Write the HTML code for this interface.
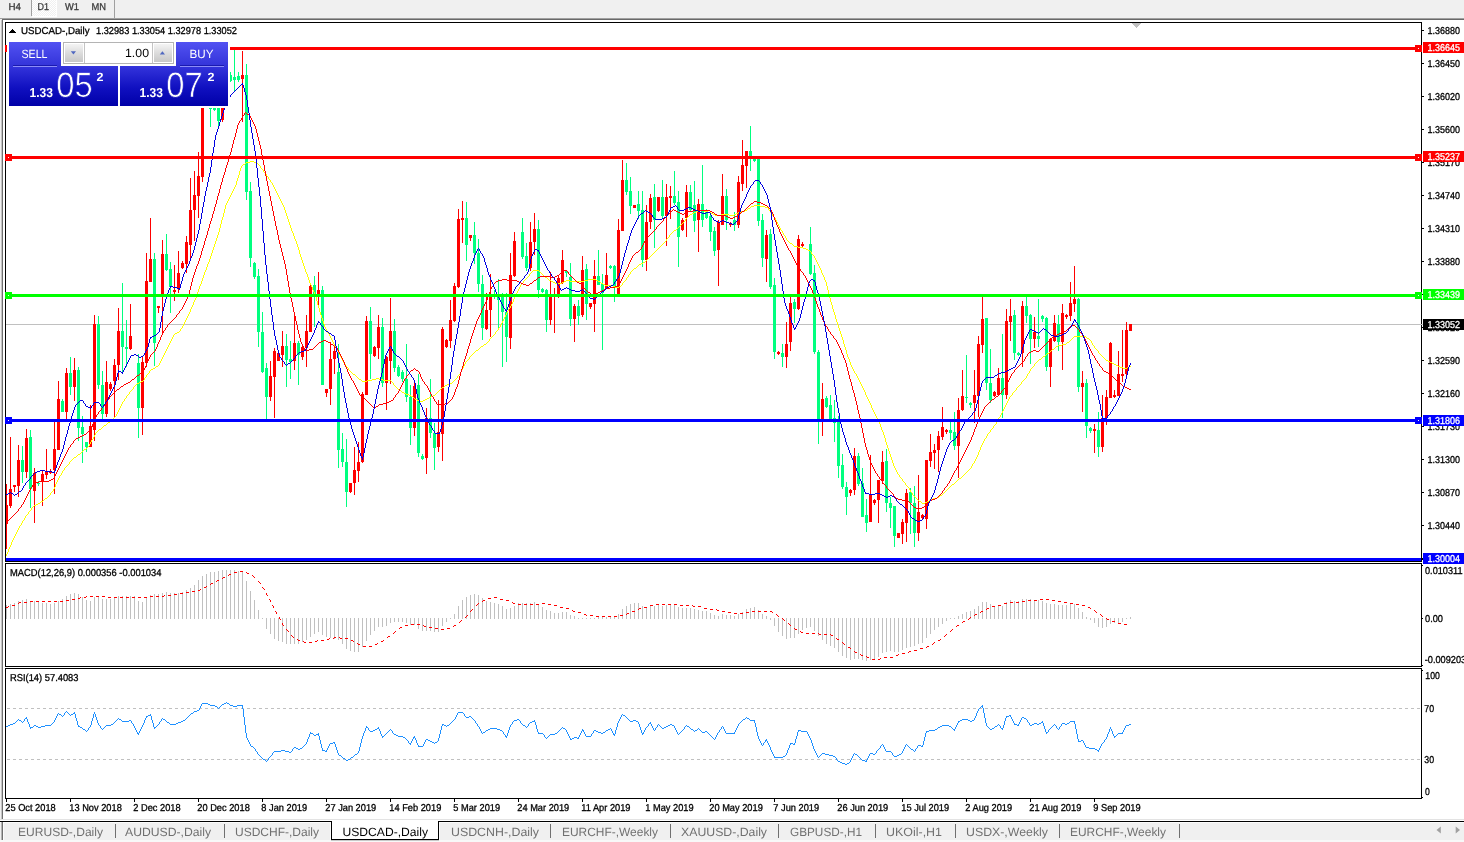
<!DOCTYPE html>
<html><head><meta charset="utf-8"><title>USDCAD-,Daily</title>
<style>
html,body{margin:0;padding:0;background:#fff;width:1464px;height:842px;overflow:hidden;font-family:"Liberation Sans",sans-serif}
svg{display:block}
</style></head><body>
<svg width="1464" height="842" viewBox="0 0 1464 842" shape-rendering="crispEdges" font-family="'Liberation Sans', sans-serif" text-rendering="geometricPrecision"><rect x="0" y="0" width="1464" height="842" fill="#fff"/>
<rect x="0" y="0" width="1464" height="18" fill="#f0f0f0"/>
<defs><pattern id="dz" width="2" height="2" patternUnits="userSpaceOnUse"><rect width="2" height="2" fill="#f0f0f0"/><rect width="1" height="1" fill="#fff"/><rect x="1" y="1" width="1" height="1" fill="#fff"/></pattern></defs>
<rect x="32" y="0" width="25" height="17" fill="#fff"/>
<rect x="32" y="0" width="24" height="16" fill="url(#dz)"/>
<rect x="31" y="0" width="1" height="16" fill="#a0a0a0"/>
<rect x="114" y="0" width="1" height="18" fill="#a0a0a0"/>
<text x="8.5" y="9.8" font-size="10" fill="#3c3c3c" textLength="12.5" lengthAdjust="spacingAndGlyphs" stroke="#3c3c3c" stroke-width="0.3">H4</text>
<text x="37.5" y="9.8" font-size="10" fill="#3c3c3c" textLength="11.5" lengthAdjust="spacingAndGlyphs" stroke="#3c3c3c" stroke-width="0.3">D1</text>
<text x="65" y="9.8" font-size="10" fill="#3c3c3c" textLength="14" lengthAdjust="spacingAndGlyphs" stroke="#3c3c3c" stroke-width="0.3">W1</text>
<text x="91.5" y="9.8" font-size="10" fill="#3c3c3c" textLength="14.5" lengthAdjust="spacingAndGlyphs" stroke="#3c3c3c" stroke-width="0.3">MN</text>
<rect x="0" y="18" width="1464" height="1" fill="#a0a0a0"/>
<rect x="2" y="19" width="1462" height="1" fill="#696969"/>
<rect x="0" y="19" width="2" height="1" fill="#f0f0f0"/>
<rect x="0" y="20" width="2" height="800" fill="#f0f0f0"/>
<rect x="1" y="20" width="1" height="799" fill="#c4c4c4"/>
<rect x="2" y="20" width="1" height="799" fill="#707070"/>
<defs><clipPath id="cm"><rect x="6" y="23" width="1415" height="538"/></clipPath><clipPath id="c2"><rect x="6" y="564" width="1415" height="102"/></clipPath><clipPath id="c3"><rect x="6" y="669" width="1415" height="129"/></clipPath><linearGradient id="gb" x1="0" y1="0" x2="0" y2="1"><stop offset="0" stop-color="#5252f2"/><stop offset="1" stop-color="#3232d8"/></linearGradient><linearGradient id="gp" x1="0" y1="0" x2="0" y2="1"><stop offset="0" stop-color="#3434dc"/><stop offset="0.55" stop-color="#1010c0"/><stop offset="1" stop-color="#0000a8"/></linearGradient><linearGradient id="gg" x1="0" y1="0" x2="0" y2="1"><stop offset="0" stop-color="#f4f4f4"/><stop offset="0.5" stop-color="#dcdcdc"/><stop offset="1" stop-color="#c8c8c8"/></linearGradient><linearGradient id="gs" gradientUnits="userSpaceOnUse" x1="0" y1="66" x2="0" y2="106"><stop offset="0" stop-color="#3434dc"/><stop offset="0.55" stop-color="#1010c0"/><stop offset="1" stop-color="#0000a8"/></linearGradient></defs>
<g clip-path="url(#cm)">
<rect x="6" y="324" width="1416" height="1" fill="#c0c0c0"/>
<rect x="6" y="484" width="1" height="65" fill="#ff0000"/>
<rect x="5" y="505" width="3" height="19" fill="#ff0000"/>
<rect x="10" y="437" width="1" height="71" fill="#ff0000"/>
<rect x="9" y="489" width="3" height="17" fill="#ff0000"/>
<rect x="14" y="485" width="1" height="7" fill="#ff0000"/>
<rect x="13" y="485" width="3" height="2" fill="#ff0000"/>
<rect x="18" y="445" width="1" height="52" fill="#ff0000"/>
<rect x="17" y="460" width="3" height="26" fill="#ff0000"/>
<rect x="22" y="446" width="1" height="37" fill="#00ff7f"/>
<rect x="21" y="460" width="3" height="12" fill="#00ff7f"/>
<rect x="26" y="429" width="1" height="49" fill="#ff0000"/>
<rect x="25" y="438" width="3" height="34" fill="#ff0000"/>
<rect x="30" y="430" width="1" height="78" fill="#00ff7f"/>
<rect x="29" y="437" width="3" height="52" fill="#00ff7f"/>
<rect x="34" y="468" width="1" height="55" fill="#ff0000"/>
<rect x="33" y="473" width="3" height="18" fill="#ff0000"/>
<rect x="38" y="481" width="1" height="5" fill="#00ff7f"/>
<rect x="37" y="483" width="3" height="1" fill="#00ff7f"/>
<rect x="42" y="470" width="1" height="36" fill="#ff0000"/>
<rect x="41" y="474" width="3" height="8" fill="#ff0000"/>
<rect x="46" y="449" width="1" height="30" fill="#ff0000"/>
<rect x="45" y="472" width="3" height="3" fill="#ff0000"/>
<rect x="50" y="469" width="1" height="5" fill="#ff0000"/>
<rect x="49" y="471" width="3" height="2" fill="#ff0000"/>
<rect x="54" y="422" width="1" height="72" fill="#ff0000"/>
<rect x="53" y="449" width="3" height="21" fill="#ff0000"/>
<rect x="58" y="381" width="1" height="69" fill="#ff0000"/>
<rect x="57" y="399" width="3" height="51" fill="#ff0000"/>
<rect x="62" y="399" width="1" height="13" fill="#00ff7f"/>
<rect x="61" y="401" width="3" height="11" fill="#00ff7f"/>
<rect x="66" y="368" width="1" height="51" fill="#ff0000"/>
<rect x="65" y="373" width="3" height="39" fill="#ff0000"/>
<rect x="70" y="357" width="1" height="38" fill="#00ff7f"/>
<rect x="69" y="373" width="3" height="14" fill="#00ff7f"/>
<rect x="74" y="358" width="1" height="43" fill="#ff0000"/>
<rect x="73" y="370" width="3" height="17" fill="#ff0000"/>
<rect x="78" y="367" width="1" height="74" fill="#00ff7f"/>
<rect x="77" y="370" width="3" height="58" fill="#00ff7f"/>
<rect x="82" y="416" width="1" height="47" fill="#00ff7f"/>
<rect x="81" y="427" width="3" height="7" fill="#00ff7f"/>
<rect x="86" y="442" width="1" height="10" fill="#00ff7f"/>
<rect x="85" y="442" width="3" height="5" fill="#00ff7f"/>
<rect x="90" y="405" width="1" height="42" fill="#ff0000"/>
<rect x="89" y="426" width="3" height="21" fill="#ff0000"/>
<rect x="94" y="315" width="1" height="126" fill="#ff0000"/>
<rect x="93" y="324" width="3" height="106" fill="#ff0000"/>
<rect x="98" y="316" width="1" height="73" fill="#00ff7f"/>
<rect x="97" y="324" width="3" height="61" fill="#00ff7f"/>
<rect x="102" y="371" width="1" height="48" fill="#00ff7f"/>
<rect x="101" y="385" width="3" height="29" fill="#00ff7f"/>
<rect x="106" y="361" width="1" height="56" fill="#ff0000"/>
<rect x="105" y="382" width="3" height="32" fill="#ff0000"/>
<rect x="110" y="382" width="1" height="9" fill="#ff0000"/>
<rect x="109" y="384" width="3" height="5" fill="#ff0000"/>
<rect x="114" y="359" width="1" height="59" fill="#ff0000"/>
<rect x="113" y="365" width="3" height="16" fill="#ff0000"/>
<rect x="118" y="308" width="1" height="72" fill="#ff0000"/>
<rect x="117" y="331" width="3" height="34" fill="#ff0000"/>
<rect x="122" y="283" width="1" height="91" fill="#00ff7f"/>
<rect x="121" y="331" width="3" height="16" fill="#00ff7f"/>
<rect x="126" y="320" width="1" height="47" fill="#00ff7f"/>
<rect x="125" y="347" width="3" height="2" fill="#00ff7f"/>
<rect x="130" y="304" width="1" height="46" fill="#ff0000"/>
<rect x="129" y="336" width="3" height="13" fill="#ff0000"/>
<rect x="138" y="354" width="1" height="84" fill="#00ff7f"/>
<rect x="137" y="363" width="3" height="45" fill="#00ff7f"/>
<rect x="142" y="357" width="1" height="78" fill="#ff0000"/>
<rect x="141" y="362" width="3" height="46" fill="#ff0000"/>
<rect x="146" y="253" width="1" height="114" fill="#ff0000"/>
<rect x="145" y="281" width="3" height="82" fill="#ff0000"/>
<rect x="150" y="218" width="1" height="64" fill="#ff0000"/>
<rect x="149" y="259" width="3" height="23" fill="#ff0000"/>
<rect x="154" y="253" width="1" height="113" fill="#00ff7f"/>
<rect x="153" y="259" width="3" height="84" fill="#00ff7f"/>
<rect x="158" y="306" width="1" height="7" fill="#ff0000"/>
<rect x="157" y="306" width="3" height="2" fill="#ff0000"/>
<rect x="162" y="240" width="1" height="94" fill="#ff0000"/>
<rect x="161" y="254" width="3" height="42" fill="#ff0000"/>
<rect x="166" y="234" width="1" height="37" fill="#00ff7f"/>
<rect x="165" y="254" width="3" height="16" fill="#00ff7f"/>
<rect x="170" y="262" width="1" height="51" fill="#00ff7f"/>
<rect x="169" y="269" width="3" height="18" fill="#00ff7f"/>
<rect x="174" y="265" width="1" height="36" fill="#ff0000"/>
<rect x="173" y="290" width="3" height="2" fill="#ff0000"/>
<rect x="178" y="251" width="1" height="42" fill="#ff0000"/>
<rect x="177" y="273" width="3" height="16" fill="#ff0000"/>
<rect x="182" y="261" width="1" height="8" fill="#ff0000"/>
<rect x="181" y="263" width="3" height="5" fill="#ff0000"/>
<rect x="186" y="236" width="1" height="37" fill="#ff0000"/>
<rect x="185" y="242" width="3" height="22" fill="#ff0000"/>
<rect x="190" y="178" width="1" height="82" fill="#ff0000"/>
<rect x="189" y="210" width="3" height="35" fill="#ff0000"/>
<rect x="194" y="171" width="1" height="70" fill="#ff0000"/>
<rect x="193" y="195" width="3" height="15" fill="#ff0000"/>
<rect x="198" y="152" width="1" height="66" fill="#ff0000"/>
<rect x="197" y="176" width="3" height="20" fill="#ff0000"/>
<rect x="202" y="60" width="1" height="122" fill="#ff0000"/>
<rect x="201" y="70" width="3" height="107" fill="#ff0000"/>
<rect x="210" y="60" width="1" height="67" fill="#00ff7f"/>
<rect x="209" y="70" width="3" height="39" fill="#00ff7f"/>
<rect x="214" y="100" width="1" height="11" fill="#00ff7f"/>
<rect x="213" y="104" width="3" height="6" fill="#00ff7f"/>
<rect x="218" y="60" width="1" height="66" fill="#00ff7f"/>
<rect x="217" y="100" width="3" height="21" fill="#00ff7f"/>
<rect x="222" y="60" width="1" height="62" fill="#ff0000"/>
<rect x="221" y="100" width="3" height="20" fill="#ff0000"/>
<rect x="230" y="72" width="1" height="10" fill="#00ff7f"/>
<rect x="229" y="75" width="3" height="6" fill="#00ff7f"/>
<rect x="234" y="50" width="1" height="42" fill="#00ff7f"/>
<rect x="233" y="77" width="3" height="3" fill="#00ff7f"/>
<rect x="238" y="72" width="1" height="10" fill="#00ff7f"/>
<rect x="237" y="76" width="3" height="4" fill="#00ff7f"/>
<rect x="242" y="51" width="1" height="71" fill="#ff0000"/>
<rect x="241" y="75" width="3" height="4" fill="#ff0000"/>
<rect x="246" y="64" width="1" height="136" fill="#00ff7f"/>
<rect x="245" y="75" width="3" height="117" fill="#00ff7f"/>
<rect x="250" y="182" width="1" height="85" fill="#00ff7f"/>
<rect x="249" y="191" width="3" height="67" fill="#00ff7f"/>
<rect x="254" y="262" width="1" height="17" fill="#00ff7f"/>
<rect x="253" y="263" width="3" height="14" fill="#00ff7f"/>
<rect x="258" y="269" width="1" height="78" fill="#00ff7f"/>
<rect x="257" y="276" width="3" height="56" fill="#00ff7f"/>
<rect x="262" y="312" width="1" height="61" fill="#00ff7f"/>
<rect x="261" y="332" width="3" height="40" fill="#00ff7f"/>
<rect x="266" y="363" width="1" height="56" fill="#00ff7f"/>
<rect x="265" y="368" width="3" height="29" fill="#00ff7f"/>
<rect x="270" y="361" width="1" height="40" fill="#ff0000"/>
<rect x="269" y="376" width="3" height="21" fill="#ff0000"/>
<rect x="274" y="348" width="1" height="70" fill="#ff0000"/>
<rect x="273" y="351" width="3" height="26" fill="#ff0000"/>
<rect x="278" y="352" width="1" height="9" fill="#ff0000"/>
<rect x="277" y="353" width="3" height="8" fill="#ff0000"/>
<rect x="282" y="331" width="1" height="36" fill="#ff0000"/>
<rect x="281" y="346" width="3" height="9" fill="#ff0000"/>
<rect x="286" y="334" width="1" height="53" fill="#00ff7f"/>
<rect x="285" y="346" width="3" height="14" fill="#00ff7f"/>
<rect x="290" y="341" width="1" height="38" fill="#00ff7f"/>
<rect x="289" y="359" width="3" height="3" fill="#00ff7f"/>
<rect x="294" y="312" width="1" height="58" fill="#ff0000"/>
<rect x="293" y="343" width="3" height="18" fill="#ff0000"/>
<rect x="298" y="341" width="1" height="44" fill="#00ff7f"/>
<rect x="297" y="343" width="3" height="12" fill="#00ff7f"/>
<rect x="302" y="346" width="1" height="14" fill="#ff0000"/>
<rect x="301" y="347" width="3" height="10" fill="#ff0000"/>
<rect x="306" y="315" width="1" height="52" fill="#ff0000"/>
<rect x="305" y="331" width="3" height="17" fill="#ff0000"/>
<rect x="310" y="285" width="1" height="47" fill="#ff0000"/>
<rect x="309" y="286" width="3" height="46" fill="#ff0000"/>
<rect x="314" y="276" width="1" height="51" fill="#00ff7f"/>
<rect x="313" y="285" width="3" height="10" fill="#00ff7f"/>
<rect x="318" y="272" width="1" height="36" fill="#ff0000"/>
<rect x="317" y="290" width="3" height="7" fill="#ff0000"/>
<rect x="322" y="286" width="1" height="99" fill="#00ff7f"/>
<rect x="321" y="290" width="3" height="95" fill="#00ff7f"/>
<rect x="326" y="389" width="1" height="8" fill="#ff0000"/>
<rect x="325" y="389" width="3" height="4" fill="#ff0000"/>
<rect x="330" y="342" width="1" height="63" fill="#ff0000"/>
<rect x="329" y="359" width="3" height="30" fill="#ff0000"/>
<rect x="334" y="347" width="1" height="27" fill="#ff0000"/>
<rect x="333" y="351" width="3" height="8" fill="#ff0000"/>
<rect x="338" y="344" width="1" height="124" fill="#00ff7f"/>
<rect x="337" y="372" width="3" height="78" fill="#00ff7f"/>
<rect x="342" y="433" width="1" height="34" fill="#00ff7f"/>
<rect x="341" y="449" width="3" height="13" fill="#00ff7f"/>
<rect x="346" y="439" width="1" height="68" fill="#00ff7f"/>
<rect x="345" y="462" width="3" height="30" fill="#00ff7f"/>
<rect x="350" y="483" width="1" height="10" fill="#ff0000"/>
<rect x="349" y="483" width="3" height="9" fill="#ff0000"/>
<rect x="354" y="447" width="1" height="48" fill="#ff0000"/>
<rect x="353" y="470" width="3" height="13" fill="#ff0000"/>
<rect x="358" y="442" width="1" height="40" fill="#ff0000"/>
<rect x="357" y="462" width="3" height="9" fill="#ff0000"/>
<rect x="362" y="392" width="1" height="71" fill="#ff0000"/>
<rect x="361" y="394" width="3" height="68" fill="#ff0000"/>
<rect x="366" y="316" width="1" height="79" fill="#ff0000"/>
<rect x="365" y="321" width="3" height="74" fill="#ff0000"/>
<rect x="370" y="307" width="1" height="72" fill="#00ff7f"/>
<rect x="369" y="321" width="3" height="33" fill="#00ff7f"/>
<rect x="374" y="346" width="1" height="11" fill="#ff0000"/>
<rect x="373" y="347" width="3" height="9" fill="#ff0000"/>
<rect x="378" y="315" width="1" height="44" fill="#ff0000"/>
<rect x="377" y="327" width="3" height="21" fill="#ff0000"/>
<rect x="382" y="318" width="1" height="69" fill="#00ff7f"/>
<rect x="381" y="327" width="3" height="56" fill="#00ff7f"/>
<rect x="386" y="356" width="1" height="54" fill="#ff0000"/>
<rect x="385" y="357" width="3" height="26" fill="#ff0000"/>
<rect x="390" y="298" width="1" height="86" fill="#ff0000"/>
<rect x="389" y="331" width="3" height="30" fill="#ff0000"/>
<rect x="394" y="319" width="1" height="53" fill="#00ff7f"/>
<rect x="393" y="331" width="3" height="37" fill="#00ff7f"/>
<rect x="398" y="365" width="1" height="12" fill="#00ff7f"/>
<rect x="397" y="367" width="3" height="9" fill="#00ff7f"/>
<rect x="402" y="370" width="1" height="12" fill="#00ff7f"/>
<rect x="401" y="372" width="3" height="7" fill="#00ff7f"/>
<rect x="406" y="344" width="1" height="58" fill="#00ff7f"/>
<rect x="405" y="379" width="3" height="18" fill="#00ff7f"/>
<rect x="410" y="385" width="1" height="60" fill="#00ff7f"/>
<rect x="409" y="397" width="3" height="31" fill="#00ff7f"/>
<rect x="414" y="381" width="1" height="55" fill="#ff0000"/>
<rect x="413" y="386" width="3" height="42" fill="#ff0000"/>
<rect x="418" y="374" width="1" height="83" fill="#00ff7f"/>
<rect x="417" y="385" width="3" height="68" fill="#00ff7f"/>
<rect x="422" y="454" width="1" height="6" fill="#00ff7f"/>
<rect x="421" y="456" width="3" height="3" fill="#00ff7f"/>
<rect x="426" y="408" width="1" height="66" fill="#ff0000"/>
<rect x="425" y="418" width="3" height="40" fill="#ff0000"/>
<rect x="430" y="379" width="1" height="59" fill="#00ff7f"/>
<rect x="429" y="418" width="3" height="15" fill="#00ff7f"/>
<rect x="434" y="423" width="1" height="47" fill="#00ff7f"/>
<rect x="433" y="433" width="3" height="15" fill="#00ff7f"/>
<rect x="438" y="400" width="1" height="52" fill="#ff0000"/>
<rect x="437" y="432" width="3" height="15" fill="#ff0000"/>
<rect x="442" y="327" width="1" height="134" fill="#ff0000"/>
<rect x="441" y="329" width="3" height="105" fill="#ff0000"/>
<rect x="446" y="339" width="1" height="9" fill="#ff0000"/>
<rect x="445" y="340" width="3" height="7" fill="#ff0000"/>
<rect x="450" y="300" width="1" height="48" fill="#ff0000"/>
<rect x="449" y="320" width="3" height="21" fill="#ff0000"/>
<rect x="454" y="283" width="1" height="39" fill="#ff0000"/>
<rect x="453" y="286" width="3" height="35" fill="#ff0000"/>
<rect x="458" y="209" width="1" height="79" fill="#ff0000"/>
<rect x="457" y="219" width="3" height="68" fill="#ff0000"/>
<rect x="462" y="201" width="1" height="42" fill="#ff0000"/>
<rect x="461" y="218" width="3" height="2" fill="#ff0000"/>
<rect x="466" y="202" width="1" height="59" fill="#00ff7f"/>
<rect x="465" y="218" width="3" height="27" fill="#00ff7f"/>
<rect x="470" y="235" width="1" height="6" fill="#ff0000"/>
<rect x="469" y="235" width="3" height="3" fill="#ff0000"/>
<rect x="474" y="222" width="1" height="42" fill="#00ff7f"/>
<rect x="473" y="235" width="3" height="18" fill="#00ff7f"/>
<rect x="478" y="239" width="1" height="53" fill="#00ff7f"/>
<rect x="477" y="253" width="3" height="31" fill="#00ff7f"/>
<rect x="482" y="275" width="1" height="65" fill="#00ff7f"/>
<rect x="481" y="284" width="3" height="44" fill="#00ff7f"/>
<rect x="486" y="293" width="1" height="37" fill="#ff0000"/>
<rect x="485" y="310" width="3" height="19" fill="#ff0000"/>
<rect x="490" y="274" width="1" height="63" fill="#ff0000"/>
<rect x="489" y="296" width="3" height="14" fill="#ff0000"/>
<rect x="494" y="290" width="1" height="9" fill="#00ff7f"/>
<rect x="493" y="294" width="3" height="3" fill="#00ff7f"/>
<rect x="498" y="279" width="1" height="49" fill="#00ff7f"/>
<rect x="497" y="297" width="3" height="3" fill="#00ff7f"/>
<rect x="502" y="293" width="1" height="74" fill="#00ff7f"/>
<rect x="501" y="297" width="3" height="15" fill="#00ff7f"/>
<rect x="506" y="293" width="1" height="69" fill="#00ff7f"/>
<rect x="505" y="312" width="3" height="25" fill="#00ff7f"/>
<rect x="510" y="253" width="1" height="96" fill="#ff0000"/>
<rect x="509" y="275" width="3" height="63" fill="#ff0000"/>
<rect x="514" y="232" width="1" height="45" fill="#ff0000"/>
<rect x="513" y="241" width="3" height="35" fill="#ff0000"/>
<rect x="522" y="218" width="1" height="41" fill="#00ff7f"/>
<rect x="521" y="232" width="3" height="25" fill="#00ff7f"/>
<rect x="526" y="243" width="1" height="28" fill="#00ff7f"/>
<rect x="525" y="256" width="3" height="12" fill="#00ff7f"/>
<rect x="530" y="222" width="1" height="49" fill="#ff0000"/>
<rect x="529" y="242" width="3" height="26" fill="#ff0000"/>
<rect x="534" y="213" width="1" height="42" fill="#ff0000"/>
<rect x="533" y="229" width="3" height="13" fill="#ff0000"/>
<rect x="538" y="220" width="1" height="78" fill="#00ff7f"/>
<rect x="537" y="229" width="3" height="61" fill="#00ff7f"/>
<rect x="542" y="288" width="1" height="5" fill="#00ff7f"/>
<rect x="541" y="289" width="3" height="3" fill="#00ff7f"/>
<rect x="546" y="289" width="1" height="43" fill="#00ff7f"/>
<rect x="545" y="290" width="3" height="30" fill="#00ff7f"/>
<rect x="550" y="272" width="1" height="53" fill="#ff0000"/>
<rect x="549" y="296" width="3" height="24" fill="#ff0000"/>
<rect x="554" y="288" width="1" height="45" fill="#ff0000"/>
<rect x="553" y="294" width="3" height="3" fill="#ff0000"/>
<rect x="558" y="275" width="1" height="23" fill="#ff0000"/>
<rect x="557" y="278" width="3" height="17" fill="#ff0000"/>
<rect x="562" y="250" width="1" height="34" fill="#ff0000"/>
<rect x="561" y="260" width="3" height="23" fill="#ff0000"/>
<rect x="566" y="270" width="1" height="7" fill="#00ff7f"/>
<rect x="565" y="271" width="3" height="2" fill="#00ff7f"/>
<rect x="570" y="263" width="1" height="63" fill="#00ff7f"/>
<rect x="569" y="277" width="3" height="42" fill="#00ff7f"/>
<rect x="574" y="304" width="1" height="38" fill="#ff0000"/>
<rect x="573" y="306" width="3" height="13" fill="#ff0000"/>
<rect x="578" y="300" width="1" height="25" fill="#00ff7f"/>
<rect x="577" y="306" width="3" height="10" fill="#00ff7f"/>
<rect x="582" y="256" width="1" height="61" fill="#ff0000"/>
<rect x="581" y="270" width="3" height="45" fill="#ff0000"/>
<rect x="586" y="264" width="1" height="56" fill="#00ff7f"/>
<rect x="585" y="269" width="3" height="35" fill="#00ff7f"/>
<rect x="590" y="303" width="1" height="6" fill="#ff0000"/>
<rect x="589" y="303" width="3" height="4" fill="#ff0000"/>
<rect x="594" y="260" width="1" height="72" fill="#ff0000"/>
<rect x="593" y="276" width="3" height="28" fill="#ff0000"/>
<rect x="598" y="250" width="1" height="35" fill="#00ff7f"/>
<rect x="597" y="276" width="3" height="9" fill="#00ff7f"/>
<rect x="602" y="274" width="1" height="76" fill="#00ff7f"/>
<rect x="601" y="284" width="3" height="9" fill="#00ff7f"/>
<rect x="606" y="253" width="1" height="36" fill="#ff0000"/>
<rect x="605" y="275" width="3" height="14" fill="#ff0000"/>
<rect x="610" y="265" width="1" height="4" fill="#00ff7f"/>
<rect x="609" y="266" width="3" height="2" fill="#00ff7f"/>
<rect x="614" y="265" width="1" height="37" fill="#00ff7f"/>
<rect x="613" y="266" width="3" height="21" fill="#00ff7f"/>
<rect x="618" y="219" width="1" height="76" fill="#ff0000"/>
<rect x="617" y="230" width="3" height="65" fill="#ff0000"/>
<rect x="622" y="160" width="1" height="71" fill="#ff0000"/>
<rect x="621" y="180" width="3" height="51" fill="#ff0000"/>
<rect x="626" y="163" width="1" height="32" fill="#00ff7f"/>
<rect x="625" y="180" width="3" height="12" fill="#00ff7f"/>
<rect x="630" y="177" width="1" height="37" fill="#00ff7f"/>
<rect x="629" y="191" width="3" height="15" fill="#00ff7f"/>
<rect x="634" y="205" width="1" height="3" fill="#ff0000"/>
<rect x="633" y="205" width="3" height="3" fill="#ff0000"/>
<rect x="638" y="191" width="1" height="28" fill="#00ff7f"/>
<rect x="637" y="204" width="3" height="7" fill="#00ff7f"/>
<rect x="642" y="191" width="1" height="76" fill="#00ff7f"/>
<rect x="641" y="210" width="3" height="50" fill="#00ff7f"/>
<rect x="646" y="205" width="1" height="66" fill="#ff0000"/>
<rect x="645" y="222" width="3" height="38" fill="#ff0000"/>
<rect x="650" y="194" width="1" height="35" fill="#ff0000"/>
<rect x="649" y="198" width="3" height="24" fill="#ff0000"/>
<rect x="654" y="184" width="1" height="64" fill="#00ff7f"/>
<rect x="653" y="197" width="3" height="23" fill="#00ff7f"/>
<rect x="658" y="197" width="1" height="15" fill="#ff0000"/>
<rect x="657" y="197" width="3" height="14" fill="#ff0000"/>
<rect x="662" y="180" width="1" height="39" fill="#00ff7f"/>
<rect x="661" y="197" width="3" height="19" fill="#00ff7f"/>
<rect x="666" y="184" width="1" height="62" fill="#ff0000"/>
<rect x="665" y="197" width="3" height="19" fill="#ff0000"/>
<rect x="670" y="186" width="1" height="33" fill="#ff0000"/>
<rect x="669" y="196" width="3" height="2" fill="#ff0000"/>
<rect x="674" y="171" width="1" height="34" fill="#00ff7f"/>
<rect x="673" y="196" width="3" height="7" fill="#00ff7f"/>
<rect x="678" y="191" width="1" height="76" fill="#00ff7f"/>
<rect x="677" y="202" width="3" height="35" fill="#00ff7f"/>
<rect x="682" y="218" width="1" height="13" fill="#ff0000"/>
<rect x="681" y="220" width="3" height="10" fill="#ff0000"/>
<rect x="686" y="185" width="1" height="52" fill="#ff0000"/>
<rect x="685" y="192" width="3" height="26" fill="#ff0000"/>
<rect x="690" y="185" width="1" height="27" fill="#00ff7f"/>
<rect x="689" y="192" width="3" height="18" fill="#00ff7f"/>
<rect x="694" y="181" width="1" height="51" fill="#00ff7f"/>
<rect x="693" y="205" width="3" height="16" fill="#00ff7f"/>
<rect x="698" y="199" width="1" height="53" fill="#ff0000"/>
<rect x="697" y="204" width="3" height="16" fill="#ff0000"/>
<rect x="702" y="165" width="1" height="62" fill="#00ff7f"/>
<rect x="701" y="204" width="3" height="16" fill="#00ff7f"/>
<rect x="706" y="209" width="1" height="10" fill="#00ff7f"/>
<rect x="705" y="211" width="3" height="7" fill="#00ff7f"/>
<rect x="710" y="215" width="1" height="26" fill="#00ff7f"/>
<rect x="709" y="216" width="3" height="16" fill="#00ff7f"/>
<rect x="714" y="227" width="1" height="29" fill="#00ff7f"/>
<rect x="713" y="231" width="3" height="20" fill="#00ff7f"/>
<rect x="718" y="220" width="1" height="66" fill="#ff0000"/>
<rect x="717" y="222" width="3" height="28" fill="#ff0000"/>
<rect x="722" y="174" width="1" height="51" fill="#ff0000"/>
<rect x="721" y="196" width="3" height="29" fill="#ff0000"/>
<rect x="726" y="189" width="1" height="41" fill="#00ff7f"/>
<rect x="725" y="196" width="3" height="24" fill="#00ff7f"/>
<rect x="730" y="222" width="1" height="5" fill="#ff0000"/>
<rect x="729" y="223" width="3" height="2" fill="#ff0000"/>
<rect x="734" y="212" width="1" height="19" fill="#00ff7f"/>
<rect x="733" y="220" width="3" height="5" fill="#00ff7f"/>
<rect x="738" y="176" width="1" height="52" fill="#ff0000"/>
<rect x="737" y="182" width="3" height="43" fill="#ff0000"/>
<rect x="742" y="140" width="1" height="51" fill="#ff0000"/>
<rect x="741" y="165" width="3" height="19" fill="#ff0000"/>
<rect x="746" y="151" width="1" height="37" fill="#ff0000"/>
<rect x="745" y="151" width="3" height="15" fill="#ff0000"/>
<rect x="750" y="126" width="1" height="45" fill="#00ff7f"/>
<rect x="749" y="151" width="3" height="5" fill="#00ff7f"/>
<rect x="754" y="157" width="1" height="5" fill="#00ff7f"/>
<rect x="753" y="158" width="3" height="3" fill="#00ff7f"/>
<rect x="758" y="159" width="1" height="67" fill="#00ff7f"/>
<rect x="757" y="159" width="3" height="62" fill="#00ff7f"/>
<rect x="762" y="214" width="1" height="53" fill="#00ff7f"/>
<rect x="761" y="220" width="3" height="38" fill="#00ff7f"/>
<rect x="766" y="230" width="1" height="52" fill="#ff0000"/>
<rect x="765" y="235" width="3" height="24" fill="#ff0000"/>
<rect x="770" y="229" width="1" height="60" fill="#00ff7f"/>
<rect x="769" y="234" width="3" height="53" fill="#00ff7f"/>
<rect x="774" y="278" width="1" height="81" fill="#00ff7f"/>
<rect x="773" y="285" width="3" height="67" fill="#00ff7f"/>
<rect x="778" y="351" width="1" height="4" fill="#ff0000"/>
<rect x="777" y="352" width="3" height="2" fill="#ff0000"/>
<rect x="782" y="344" width="1" height="23" fill="#00ff7f"/>
<rect x="781" y="353" width="3" height="4" fill="#00ff7f"/>
<rect x="786" y="322" width="1" height="46" fill="#ff0000"/>
<rect x="785" y="344" width="3" height="13" fill="#ff0000"/>
<rect x="790" y="297" width="1" height="54" fill="#ff0000"/>
<rect x="789" y="303" width="3" height="39" fill="#ff0000"/>
<rect x="794" y="299" width="1" height="24" fill="#00ff7f"/>
<rect x="793" y="302" width="3" height="7" fill="#00ff7f"/>
<rect x="798" y="235" width="1" height="75" fill="#ff0000"/>
<rect x="797" y="239" width="3" height="70" fill="#ff0000"/>
<rect x="802" y="242" width="1" height="6" fill="#ff0000"/>
<rect x="801" y="244" width="3" height="2" fill="#ff0000"/>
<rect x="810" y="227" width="1" height="48" fill="#00ff7f"/>
<rect x="809" y="244" width="3" height="30" fill="#00ff7f"/>
<rect x="814" y="265" width="1" height="89" fill="#00ff7f"/>
<rect x="813" y="273" width="3" height="79" fill="#00ff7f"/>
<rect x="818" y="350" width="1" height="94" fill="#00ff7f"/>
<rect x="817" y="352" width="3" height="68" fill="#00ff7f"/>
<rect x="822" y="383" width="1" height="53" fill="#ff0000"/>
<rect x="821" y="399" width="3" height="20" fill="#ff0000"/>
<rect x="826" y="396" width="1" height="12" fill="#00ff7f"/>
<rect x="825" y="398" width="3" height="9" fill="#00ff7f"/>
<rect x="830" y="395" width="1" height="25" fill="#00ff7f"/>
<rect x="829" y="405" width="3" height="14" fill="#00ff7f"/>
<rect x="834" y="400" width="1" height="42" fill="#00ff7f"/>
<rect x="833" y="418" width="3" height="5" fill="#00ff7f"/>
<rect x="838" y="416" width="1" height="62" fill="#00ff7f"/>
<rect x="837" y="422" width="3" height="44" fill="#00ff7f"/>
<rect x="842" y="454" width="1" height="35" fill="#00ff7f"/>
<rect x="841" y="465" width="3" height="22" fill="#00ff7f"/>
<rect x="846" y="482" width="1" height="33" fill="#00ff7f"/>
<rect x="845" y="487" width="3" height="10" fill="#00ff7f"/>
<rect x="850" y="489" width="1" height="7" fill="#ff0000"/>
<rect x="849" y="490" width="3" height="3" fill="#ff0000"/>
<rect x="854" y="448" width="1" height="47" fill="#ff0000"/>
<rect x="853" y="456" width="3" height="34" fill="#ff0000"/>
<rect x="858" y="453" width="1" height="33" fill="#00ff7f"/>
<rect x="857" y="456" width="3" height="28" fill="#00ff7f"/>
<rect x="862" y="468" width="1" height="49" fill="#00ff7f"/>
<rect x="861" y="483" width="3" height="34" fill="#00ff7f"/>
<rect x="866" y="499" width="1" height="33" fill="#00ff7f"/>
<rect x="865" y="515" width="3" height="8" fill="#00ff7f"/>
<rect x="870" y="455" width="1" height="67" fill="#ff0000"/>
<rect x="869" y="494" width="3" height="28" fill="#ff0000"/>
<rect x="874" y="499" width="1" height="6" fill="#ff0000"/>
<rect x="873" y="500" width="3" height="3" fill="#ff0000"/>
<rect x="878" y="480" width="1" height="43" fill="#ff0000"/>
<rect x="877" y="480" width="3" height="20" fill="#ff0000"/>
<rect x="882" y="451" width="1" height="33" fill="#ff0000"/>
<rect x="881" y="462" width="3" height="19" fill="#ff0000"/>
<rect x="886" y="449" width="1" height="63" fill="#00ff7f"/>
<rect x="885" y="461" width="3" height="42" fill="#00ff7f"/>
<rect x="890" y="497" width="1" height="31" fill="#00ff7f"/>
<rect x="889" y="503" width="3" height="5" fill="#00ff7f"/>
<rect x="894" y="506" width="1" height="41" fill="#00ff7f"/>
<rect x="893" y="506" width="3" height="30" fill="#00ff7f"/>
<rect x="898" y="533" width="1" height="5" fill="#ff0000"/>
<rect x="897" y="533" width="3" height="5" fill="#ff0000"/>
<rect x="902" y="519" width="1" height="25" fill="#ff0000"/>
<rect x="901" y="522" width="3" height="12" fill="#ff0000"/>
<rect x="906" y="489" width="1" height="53" fill="#ff0000"/>
<rect x="905" y="493" width="3" height="30" fill="#ff0000"/>
<rect x="910" y="488" width="1" height="46" fill="#00ff7f"/>
<rect x="909" y="492" width="3" height="11" fill="#00ff7f"/>
<rect x="914" y="486" width="1" height="61" fill="#00ff7f"/>
<rect x="913" y="503" width="3" height="30" fill="#00ff7f"/>
<rect x="918" y="475" width="1" height="66" fill="#ff0000"/>
<rect x="917" y="512" width="3" height="21" fill="#ff0000"/>
<rect x="922" y="514" width="1" height="5" fill="#ff0000"/>
<rect x="921" y="515" width="3" height="3" fill="#ff0000"/>
<rect x="926" y="460" width="1" height="69" fill="#ff0000"/>
<rect x="925" y="460" width="3" height="59" fill="#ff0000"/>
<rect x="930" y="434" width="1" height="33" fill="#ff0000"/>
<rect x="929" y="452" width="3" height="9" fill="#ff0000"/>
<rect x="934" y="444" width="1" height="25" fill="#ff0000"/>
<rect x="933" y="450" width="3" height="3" fill="#ff0000"/>
<rect x="938" y="431" width="1" height="41" fill="#ff0000"/>
<rect x="937" y="436" width="3" height="14" fill="#ff0000"/>
<rect x="942" y="407" width="1" height="33" fill="#ff0000"/>
<rect x="941" y="427" width="3" height="10" fill="#ff0000"/>
<rect x="946" y="429" width="1" height="5" fill="#ff0000"/>
<rect x="945" y="430" width="3" height="2" fill="#ff0000"/>
<rect x="950" y="422" width="1" height="18" fill="#00ff7f"/>
<rect x="949" y="430" width="3" height="3" fill="#00ff7f"/>
<rect x="954" y="412" width="1" height="38" fill="#00ff7f"/>
<rect x="953" y="432" width="3" height="14" fill="#00ff7f"/>
<rect x="958" y="398" width="1" height="80" fill="#ff0000"/>
<rect x="957" y="410" width="3" height="36" fill="#ff0000"/>
<rect x="962" y="370" width="1" height="41" fill="#ff0000"/>
<rect x="961" y="396" width="3" height="14" fill="#ff0000"/>
<rect x="966" y="355" width="1" height="48" fill="#00ff7f"/>
<rect x="965" y="397" width="3" height="1" fill="#00ff7f"/>
<rect x="970" y="402" width="1" height="6" fill="#00ff7f"/>
<rect x="969" y="403" width="3" height="2" fill="#00ff7f"/>
<rect x="974" y="370" width="1" height="53" fill="#ff0000"/>
<rect x="973" y="395" width="3" height="8" fill="#ff0000"/>
<rect x="978" y="336" width="1" height="81" fill="#ff0000"/>
<rect x="977" y="344" width="3" height="52" fill="#ff0000"/>
<rect x="982" y="297" width="1" height="56" fill="#ff0000"/>
<rect x="981" y="319" width="3" height="26" fill="#ff0000"/>
<rect x="986" y="318" width="1" height="72" fill="#00ff7f"/>
<rect x="985" y="318" width="3" height="65" fill="#00ff7f"/>
<rect x="990" y="349" width="1" height="54" fill="#00ff7f"/>
<rect x="989" y="383" width="3" height="17" fill="#00ff7f"/>
<rect x="994" y="391" width="1" height="6" fill="#ff0000"/>
<rect x="993" y="392" width="3" height="4" fill="#ff0000"/>
<rect x="998" y="368" width="1" height="28" fill="#ff0000"/>
<rect x="997" y="378" width="3" height="17" fill="#ff0000"/>
<rect x="1002" y="334" width="1" height="84" fill="#00ff7f"/>
<rect x="1001" y="378" width="3" height="17" fill="#00ff7f"/>
<rect x="1006" y="309" width="1" height="90" fill="#ff0000"/>
<rect x="1005" y="321" width="3" height="74" fill="#ff0000"/>
<rect x="1010" y="299" width="1" height="42" fill="#ff0000"/>
<rect x="1009" y="316" width="3" height="6" fill="#ff0000"/>
<rect x="1014" y="310" width="1" height="50" fill="#00ff7f"/>
<rect x="1013" y="315" width="3" height="38" fill="#00ff7f"/>
<rect x="1018" y="352" width="1" height="4" fill="#00ff7f"/>
<rect x="1017" y="353" width="3" height="2" fill="#00ff7f"/>
<rect x="1022" y="301" width="1" height="66" fill="#ff0000"/>
<rect x="1021" y="306" width="3" height="47" fill="#ff0000"/>
<rect x="1026" y="297" width="1" height="26" fill="#00ff7f"/>
<rect x="1025" y="306" width="3" height="10" fill="#00ff7f"/>
<rect x="1030" y="314" width="1" height="50" fill="#00ff7f"/>
<rect x="1029" y="315" width="3" height="24" fill="#00ff7f"/>
<rect x="1034" y="317" width="1" height="31" fill="#ff0000"/>
<rect x="1033" y="332" width="3" height="7" fill="#ff0000"/>
<rect x="1038" y="299" width="1" height="48" fill="#00ff7f"/>
<rect x="1037" y="336" width="3" height="3" fill="#00ff7f"/>
<rect x="1042" y="315" width="1" height="7" fill="#00ff7f"/>
<rect x="1041" y="316" width="3" height="3" fill="#00ff7f"/>
<rect x="1046" y="317" width="1" height="54" fill="#00ff7f"/>
<rect x="1045" y="318" width="3" height="49" fill="#00ff7f"/>
<rect x="1050" y="338" width="1" height="49" fill="#ff0000"/>
<rect x="1049" y="339" width="3" height="28" fill="#ff0000"/>
<rect x="1054" y="315" width="1" height="27" fill="#ff0000"/>
<rect x="1053" y="323" width="3" height="18" fill="#ff0000"/>
<rect x="1058" y="315" width="1" height="36" fill="#00ff7f"/>
<rect x="1057" y="324" width="3" height="18" fill="#00ff7f"/>
<rect x="1062" y="304" width="1" height="66" fill="#ff0000"/>
<rect x="1061" y="313" width="3" height="29" fill="#ff0000"/>
<rect x="1066" y="314" width="1" height="5" fill="#ff0000"/>
<rect x="1065" y="315" width="3" height="2" fill="#ff0000"/>
<rect x="1070" y="282" width="1" height="39" fill="#ff0000"/>
<rect x="1069" y="303" width="3" height="13" fill="#ff0000"/>
<rect x="1074" y="266" width="1" height="46" fill="#ff0000"/>
<rect x="1073" y="299" width="3" height="5" fill="#ff0000"/>
<rect x="1078" y="298" width="1" height="94" fill="#00ff7f"/>
<rect x="1077" y="299" width="3" height="88" fill="#00ff7f"/>
<rect x="1082" y="371" width="1" height="41" fill="#ff0000"/>
<rect x="1081" y="383" width="3" height="4" fill="#ff0000"/>
<rect x="1086" y="379" width="1" height="59" fill="#00ff7f"/>
<rect x="1085" y="383" width="3" height="43" fill="#00ff7f"/>
<rect x="1090" y="427" width="1" height="6" fill="#00ff7f"/>
<rect x="1089" y="428" width="3" height="3" fill="#00ff7f"/>
<rect x="1094" y="424" width="1" height="29" fill="#ff0000"/>
<rect x="1093" y="429" width="3" height="2" fill="#ff0000"/>
<rect x="1098" y="412" width="1" height="45" fill="#00ff7f"/>
<rect x="1097" y="430" width="3" height="17" fill="#00ff7f"/>
<rect x="1102" y="395" width="1" height="57" fill="#ff0000"/>
<rect x="1101" y="418" width="3" height="29" fill="#ff0000"/>
<rect x="1106" y="390" width="1" height="35" fill="#ff0000"/>
<rect x="1105" y="397" width="3" height="21" fill="#ff0000"/>
<rect x="1110" y="342" width="1" height="56" fill="#ff0000"/>
<rect x="1109" y="343" width="3" height="55" fill="#ff0000"/>
<rect x="1114" y="390" width="1" height="8" fill="#ff0000"/>
<rect x="1113" y="395" width="3" height="2" fill="#ff0000"/>
<rect x="1118" y="351" width="1" height="45" fill="#ff0000"/>
<rect x="1117" y="374" width="3" height="22" fill="#ff0000"/>
<rect x="1122" y="330" width="1" height="52" fill="#ff0000"/>
<rect x="1121" y="374" width="3" height="2" fill="#ff0000"/>
<rect x="1126" y="322" width="1" height="53" fill="#ff0000"/>
<rect x="1125" y="330" width="3" height="44" fill="#ff0000"/>
<rect x="1130" y="324" width="1" height="7" fill="#ff0000"/>
<rect x="1129" y="324" width="3" height="7" fill="#ff0000"/>
<path d="M6.5,554v2M7.5,552v2M8.5,549v3M9.5,547v2M10.5,545v2M11.5,542v3M12.5,540v2M13.5,538v2M14.5,536v2M15.5,534v2M16.5,532v2M17.5,530v2M18.5,528v2M19.5,526v2M20.5,525v1M21.5,523v2M22.5,521v2M23.5,520v1M24.5,518v2M25.5,516v2M26.5,515v1M27.5,514v1M28.5,512v2M29.5,511v1M30.5,510v1M31.5,508v2M32.5,507v1M33.5,506v1M34,505.5h2M36,504.5h2M38,503.5h2M40.5,502v1M41,501.5h2M43.5,500v1M44.5,499v1M45,498.5h2M47.5,497v1M48.5,496v1M49.5,495v1M50.5,493v2M51.5,492v1M52.5,491v1M53.5,489v2M54.5,487v2M55.5,484v3M56.5,482v2M57.5,480v2M58.5,478v2M59.5,476v2M60.5,475v1M61.5,473v2M62.5,471v2M63.5,470v1M64.5,468v2M65.5,467v1M66.5,466v1M67.5,465v1M68.5,464v1M69.5,462v2M70.5,461v1M71.5,460v1M72.5,459v1M73.5,458v1M74,457.5h2M76.5,456v1M77.5,455v1M78,454.5h2M80.5,453v1M81.5,452v1M82.5,451v1M83.5,450v1M84,449.5h2M86.5,448v1M87.5,447v1M88.5,446v1M89.5,444v2M90.5,442v2M91.5,440v2M92.5,439v1M93.5,437v2M94.5,435v2M95.5,433v2M96.5,432v1M97.5,431v1M98.5,430v1M99,429.5h2M101.5,428v1M102.5,427v1M103.5,426v1M104,425.5h2M106.5,424v1M107.5,423v1M108,422.5h2M110.5,421v1M111.5,420v1M112.5,419v1M113.5,418v1M114.5,417v1M115.5,416v1M116.5,414v2M117.5,412v2M118.5,410v2M119.5,408v2M120.5,406v2M121.5,404v2M122.5,402v2M123.5,401v1M124.5,399v2M125.5,398v1M126.5,396v2M127.5,395v1M128.5,394v1M129.5,392v2M130.5,391v1M131.5,390v1M132.5,389v1M133.5,387v2M134.5,386v1M135.5,385v1M136.5,384v1M137,383.5h2M139,382.5h2M141,381.5h2M143.5,380v1M144.5,378v2M145.5,377v1M146.5,375v2M147.5,374v1M148.5,373v1M149.5,371v2M150.5,370v1M151,369.5h2M153,368.5h2M155.5,367v1M156,366.5h2M158.5,365v1M159.5,363v2M160.5,361v2M161.5,359v2M162.5,357v2M163.5,355v2M164.5,353v2M165.5,351v2M166.5,349v2M167.5,347v2M168.5,345v2M169.5,343v2M170.5,341v2M171.5,339v2M172.5,337v2M173.5,335v2M174.5,334v1M175,333.5h2M177,332.5h2M179.5,331v1M180.5,329v2M181.5,328v1M182.5,326v2M183.5,324v2M184.5,322v2M185.5,320v2M186.5,318v2M187.5,316v2M188.5,314v2M189.5,312v2M190.5,309v3M191.5,307v2M192.5,305v2M193.5,302v3M194.5,300v2M195.5,298v2M196.5,295v3M197.5,292v3M198.5,289v3M199.5,286v3M200.5,284v2M201.5,281v3M202.5,278v3M203.5,275v3M204.5,272v3M205.5,270v2M206.5,267v3M207.5,264v3M208.5,262v2M209.5,259v3M210.5,256v3M211.5,253v3M212.5,250v3M213.5,247v3M214.5,244v3M215.5,241v3M216.5,238v3M217.5,235v3M218.5,232v3M219.5,228v4M220.5,224v4M221.5,220v4M222.5,217v3M223.5,213v4M224.5,209v4M225.5,205v4M226.5,203v2M227.5,201v2M228.5,199v2M229.5,197v2M230.5,195v2M231.5,193v2M232.5,191v2M233.5,189v2M234.5,187v2M235.5,185v2M236.5,181v4M237.5,178v3M238.5,175v3M239.5,171v4M240.5,168v3M241.5,166v2M242.5,165v1M243,164.5h2M245.5,163v1M246,162.5h4M250,161.5h4M254,162.5h2M256,163.5h2M258.5,164v1M259.5,165v1M260.5,166v2M261.5,168v1M262.5,169v1M263.5,170v2M264.5,172v1M265.5,173v1M266.5,174v2M267.5,176v1M268.5,177v2M269.5,179v1M270.5,180v2M271.5,182v1M272.5,183v2M273.5,185v2M274.5,187v2M275.5,189v2M276.5,191v2M277.5,193v2M278.5,195v2M279.5,197v2M280.5,199v2M281.5,201v2M282.5,203v2M283.5,205v2M284.5,207v3M285.5,210v3M286.5,213v3M287.5,216v3M288.5,219v3M289.5,222v3M290.5,225v3M291.5,228v3M292.5,231v2M293.5,233v3M294.5,236v3M295.5,239v2M296.5,241v3M297.5,244v3M298.5,247v3M299.5,250v4M300.5,254v3M301.5,257v3M302.5,260v3M303.5,263v3M304.5,266v3M305.5,269v3M306.5,272v2M307.5,274v3M308.5,277v3M309.5,280v3M310.5,283v2M311.5,285v2M312.5,287v3M313.5,290v2M314.5,292v2M315.5,294v3M316.5,297v4M317.5,301v4M318.5,305v3M319.5,308v4M320.5,312v3M321.5,315v3M322.5,318v3M323.5,321v3M324.5,324v3M325.5,327v2M326.5,329v2M327.5,331v2M328.5,333v1M329.5,334v2M330.5,336v2M331.5,338v2M332.5,340v2M333.5,342v2M334.5,344v2M335.5,346v2M336.5,348v2M337.5,350v1M338.5,351v2M339.5,353v2M340.5,355v2M341.5,357v2M342.5,359v2M343.5,361v2M344.5,363v1M345.5,364v2M346.5,366v1M347.5,367v1M348.5,368v2M349.5,370v1M350.5,371v1M351.5,372v1M352.5,373v1M353,374.5h2M355.5,375v1M356.5,376v1M357.5,377v1M358.5,378v1M359,379.5h2M361.5,380v1M362,381.5h5M367,380.5h5M372,379.5h4M376,378.5h3M379,379.5h4M383,380.5h8M391.5,381v1M392.5,382v1M393.5,383v2M394.5,385v1M395.5,386v1M396.5,387v1M397.5,388v1M398,389.5h2M400.5,390v1M401.5,391v1M402,392.5h2M404,393.5h2M406,394.5h3M409,395.5h2M411,396.5h2M413.5,397v1M414.5,398v1M415,399.5h2M417,400.5h3M420,401.5h3M423,400.5h2M425,399.5h2M427,398.5h2M429,397.5h2M431,396.5h2M433,395.5h2M435.5,394v1M436.5,393v1M437.5,392v1M438.5,391v1M439.5,390v1M440.5,389v1M441.5,388v1M442,387.5h2M444.5,386v1M445,385.5h2M447,384.5h3M450,383.5h2M452.5,382v1M453.5,381v1M454.5,380v1M455.5,379v1M456.5,378v1M457.5,376v2M458.5,375v1M459.5,374v1M460.5,372v2M461.5,370v2M462.5,368v2M463.5,366v2M464.5,364v2M465.5,362v2M466.5,361v1M467.5,360v1M468.5,359v1M469.5,357v2M470.5,356v1M471.5,355v1M472.5,354v1M473.5,353v1M474.5,352v1M475.5,351v1M476,350.5h2M478.5,349v1M479.5,348v1M480.5,347v1M481,346.5h2M483.5,345v1M484,344.5h2M486.5,343v1M487.5,342v1M488.5,341v1M489.5,339v2M490.5,338v1M491.5,337v1M492.5,336v1M493.5,335v1M494.5,334v1M495.5,332v2M496.5,331v1M497.5,330v1M498.5,328v2M499.5,327v1M500.5,325v2M501.5,323v2M502.5,321v2M503.5,319v2M504.5,317v2M505.5,315v2M506.5,313v2M507.5,311v2M508.5,309v2M509.5,308v1M510.5,306v2M511.5,304v2M512.5,302v2M513.5,299v3M514.5,297v2M515.5,295v2M516.5,293v2M517.5,291v2M518.5,289v2M519.5,287v2M520.5,285v2M521.5,284v1M522.5,283v1M523.5,281v2M524.5,280v1M525.5,279v1M526.5,278v1M527.5,277v1M528.5,276v1M529.5,274v2M530.5,273v1M531.5,272v1M532.5,271v1M533,270.5h6M539.5,271v1M540.5,272v1M541.5,273v1M542.5,274v1M543.5,275v1M544.5,276v1M545,277.5h2M547.5,278v1M548.5,279v1M549,280.5h2M551,281.5h2M553,282.5h2M555,283.5h7M562,282.5h2M564,281.5h2M566,280.5h4M570,281.5h14M584,280.5h4M588,279.5h8M596,280.5h2M598,281.5h2M600.5,282v1M601,283.5h2M603,284.5h2M605,285.5h8M613,286.5h2M615,287.5h4M619,286.5h2M621.5,285v1M622.5,283v2M623.5,282v1M624.5,281v1M625.5,280v1M626.5,278v2M627.5,277v1M628.5,275v2M629.5,274v1M630.5,272v2M631.5,271v1M632.5,270v1M633.5,269v1M634,268.5h2M636.5,267v1M637.5,266v1M638.5,265v1M639,264.5h2M641,263.5h2M643,262.5h2M645.5,261v1M646.5,260v1M647.5,259v1M648.5,258v1M649.5,257v1M650.5,256v1M651.5,255v1M652.5,254v1M653.5,253v1M654.5,252v1M655.5,251v1M656.5,250v1M657.5,249v1M658.5,248v1M659.5,247v1M660.5,246v1M661.5,245v1M662.5,244v1M663.5,243v1M664.5,242v1M665.5,241v1M666.5,239v2M667.5,238v1M668.5,237v1M669.5,235v2M670.5,234v1M671.5,233v1M672.5,232v1M673.5,231v1M674,230.5h2M676.5,229v1M677.5,228v1M678.5,227v1M679.5,226v1M680.5,225v1M681.5,224v1M682.5,223v1M683.5,222v1M684.5,221v1M685.5,219v2M686.5,218v1M687.5,217v1M688.5,216v1M689.5,215v1M690,214.5h2M692,213.5h2M694,212.5h2M696,211.5h4M700,210.5h4M704,211.5h4M708,212.5h3M711,213.5h2M713,214.5h2M715,215.5h6M721,214.5h8M729,215.5h5M734,214.5h2M736,213.5h2M738,212.5h3M741,211.5h4M745,210.5h2M747.5,209v1M748,208.5h2M750.5,207v1M751,206.5h3M754,205.5h6M760,206.5h5M765,207.5h3M768.5,208v2M769.5,210v1M770.5,211v2M771.5,213v1M772.5,214v2M773.5,216v1M774.5,217v1M775.5,218v2M776.5,220v2M777.5,222v2M778.5,224v2M779.5,226v2M780.5,228v2M781.5,230v1M782.5,231v2M783.5,233v2M784.5,235v1M785.5,236v2M786.5,238v2M787.5,240v1M788.5,241v1M789.5,242v1M790,243.5h2M792.5,244v1M793.5,245v1M794,246.5h4M798,247.5h5M803,248.5h3M806,249.5h2M808,250.5h2M810.5,251v1M811.5,252v2M812.5,254v1M813.5,255v1M814.5,256v2M815.5,258v2M816.5,260v2M817.5,262v2M818.5,264v2M819.5,266v2M820.5,268v2M821.5,270v3M822.5,273v2M823.5,275v2M824.5,277v3M825.5,280v2M826.5,282v4M827.5,286v4M828.5,290v4M829.5,294v4M830.5,298v4M831.5,302v3M832.5,305v4M833.5,309v3M834.5,312v3M835.5,315v4M836.5,319v3M837.5,322v3M838.5,325v3M839.5,328v3M840.5,331v3M841.5,334v3M842.5,337v3M843.5,340v4M844.5,344v3M845.5,347v3M846.5,350v4M847.5,354v3M848.5,357v2M849.5,359v3M850.5,362v3M851.5,365v2M852.5,367v2M853.5,369v2M854.5,371v2M855.5,373v1M856.5,374v2M857.5,376v2M858.5,378v2M859.5,380v2M860.5,382v2M861.5,384v2M862.5,386v2M863.5,388v2M864.5,390v2M865.5,392v3M866.5,395v2M867.5,397v2M868.5,399v2M869.5,401v2M870.5,403v2M871.5,405v3M872.5,408v2M873.5,410v2M874.5,412v2M875.5,414v2M876.5,416v2M877.5,418v2M878.5,420v2M879.5,422v2M880.5,424v3M881.5,427v3M882.5,430v2M883.5,432v3M884.5,435v3M885.5,438v4M886.5,442v3M887.5,445v3M888.5,448v3M889.5,451v3M890.5,454v3M891.5,457v3M892.5,460v3M893.5,463v3M894.5,466v2M895.5,468v2M896.5,470v2M897.5,472v2M898.5,474v1M899.5,475v2M900.5,477v1M901.5,478v1M902.5,479v2M903.5,481v1M904.5,482v1M905.5,483v2M906.5,485v1M907.5,486v1M908.5,487v1M909.5,488v2M910.5,490v2M911.5,492v1M912.5,493v2M913.5,495v1M914.5,496v1M915.5,497v1M916.5,498v1M917.5,499v1M918.5,500v1M919,501.5h2M921.5,502v1M922,503.5h3M925,502.5h2M927,501.5h2M929,500.5h2M931,499.5h2M933,498.5h4M937,497.5h2M939.5,496v1M940,495.5h2M942.5,494v1M943.5,493v1M944.5,492v1M945.5,491v1M946.5,490v1M947.5,489v1M948.5,488v1M949.5,487v1M950.5,486v1M951.5,485v1M952,484.5h2M954.5,483v1M955.5,482v1M956.5,481v1M957.5,480v1M958.5,479v1M959,478.5h2M961.5,477v1M962.5,476v1M963.5,475v1M964.5,474v1M965.5,473v1M966.5,472v1M967.5,471v1M968.5,470v1M969.5,469v1M970.5,468v1M971.5,466v2M972.5,464v2M973.5,463v1M974.5,461v2M975.5,459v2M976.5,457v2M977.5,455v2M978.5,452v3M979.5,450v2M980.5,447v3M981.5,445v2M982.5,443v2M983.5,441v2M984.5,439v2M985.5,438v1M986.5,436v2M987.5,434v2M988.5,433v1M989.5,432v1M990.5,430v2M991.5,429v1M992.5,428v1M993.5,426v2M994.5,425v1M995.5,424v1M996.5,422v2M997.5,420v2M998.5,418v2M999.5,417v1M1000.5,415v2M1001.5,413v2M1002.5,411v2M1003.5,409v2M1004.5,407v2M1005.5,405v2M1006.5,403v2M1007.5,401v2M1008.5,399v2M1009.5,397v2M1010.5,396v1M1011.5,395v1M1012.5,393v2M1013.5,392v1M1014.5,391v1M1015.5,390v1M1016.5,388v2M1017.5,387v1M1018.5,386v1M1019.5,385v1M1020.5,384v1M1021.5,382v2M1022.5,381v1M1023.5,380v1M1024.5,379v1M1025.5,378v1M1026.5,376v2M1027.5,374v2M1028.5,373v1M1029.5,371v2M1030.5,369v2M1031.5,368v1M1032.5,367v1M1033.5,366v1M1034.5,364v2M1035.5,363v1M1036.5,362v1M1037.5,361v1M1038.5,360v1M1039,359.5h2M1041.5,358v1M1042.5,357v1M1043,356.5h2M1045.5,355v1M1046.5,354v1M1047,353.5h2M1049.5,352v1M1050.5,351v1M1051.5,350v1M1052,349.5h2M1054.5,348v1M1055.5,347v1M1056,346.5h2M1058,345.5h4M1062,344.5h4M1066.5,343v1M1067,342.5h2M1069.5,341v1M1070.5,340v1M1071.5,339v1M1072.5,338v1M1073.5,337v1M1074,336.5h12M1086.5,337v1M1087,338.5h2M1089.5,339v1M1090.5,340v1M1091.5,341v2M1092.5,343v2M1093.5,345v1M1094.5,346v2M1095.5,348v1M1096.5,349v1M1097.5,350v1M1098.5,351v2M1099.5,353v1M1100.5,354v1M1101.5,355v1M1102.5,356v1M1103.5,357v1M1104.5,358v1M1105.5,359v1M1106,360.5h2M1108,361.5h2M1110,362.5h2M1112,363.5h2M1114,364.5h2M1116,365.5h2M1118,366.5h2M1120,367.5h3M1123,368.5h4M1127,367.5h2M1129,366.5h2" fill="none" stroke="#ffff00" stroke-width="1"/>
<path d="M6.5,521v1M7,520.5h2M9.5,519v1M10.5,518v1M11.5,517v1M12.5,516v1M13.5,515v1M14.5,514v1M15.5,513v1M16.5,512v1M17.5,511v1M18.5,509v2M19.5,508v1M20.5,507v1M21.5,505v2M22.5,504v1M23.5,502v2M24.5,500v2M25.5,498v2M26.5,496v2M27.5,494v2M28.5,492v2M29.5,490v2M30.5,488v2M31.5,487v1M32.5,485v2M33.5,484v1M34.5,483v1M35,482.5h4M39,481.5h10M49,480.5h2M51,479.5h2M53.5,478v1M54.5,476v2M55.5,474v2M56.5,472v2M57.5,470v2M58.5,468v2M59.5,466v2M60.5,464v2M61.5,462v2M62.5,460v2M63.5,458v2M64.5,456v2M65.5,454v2M66.5,452v2M67.5,450v2M68.5,448v2M69.5,447v1M70.5,445v2M71.5,444v1M72.5,443v1M73.5,441v2M74.5,440v1M75.5,439v1M76,438.5h2M78,437.5h2M80,436.5h2M82,435.5h2M84,434.5h2M86.5,433v1M87.5,432v1M88,431.5h2M90.5,429v2M91.5,427v2M92.5,424v3M93.5,422v2M94.5,419v3M95.5,417v2M96.5,415v2M97.5,414v1M98.5,412v2M99.5,411v1M100.5,410v1M101.5,408v2M102.5,407v1M103.5,406v1M104.5,404v2M105.5,403v1M106.5,401v2M107.5,400v1M108.5,399v1M109.5,397v2M110.5,396v1M111.5,395v1M112.5,394v1M113.5,393v1M114.5,392v1M115.5,391v1M116.5,390v1M117,389.5h2M119.5,388v1M120.5,387v1M121,386.5h2M123.5,385v1M124,384.5h2M126,383.5h2M128,382.5h2M130.5,381v1M131.5,380v1M132,379.5h2M134.5,378v1M135.5,377v1M136.5,376v1M137,375.5h2M139.5,374v1M140.5,373v1M141,372.5h2M143.5,370v2M144.5,368v2M145.5,366v2M146.5,363v3M147.5,361v2M148.5,359v2M149.5,357v2M150.5,355v2M151.5,354v1M152.5,353v1M153.5,352v1M154.5,351v1M155.5,349v2M156.5,347v2M157.5,344v3M158.5,342v2M159.5,340v2M160.5,337v3M161.5,335v2M162.5,333v2M163.5,331v2M164.5,330v1M165.5,328v2M166.5,327v1M167.5,325v2M168.5,324v1M169.5,323v1M170.5,322v1M171.5,321v1M172.5,320v1M173.5,319v1M174.5,318v1M175.5,317v1M176.5,315v2M177.5,314v1M178.5,313v1M179.5,311v2M180.5,310v1M181.5,309v1M182.5,307v2M183.5,305v2M184.5,303v2M185.5,301v2M186.5,299v2M187.5,297v2M188.5,294v3M189.5,290v4M190.5,286v4M191.5,282v4M192.5,278v4M193.5,275v3M194.5,272v3M195.5,269v3M196.5,266v3M197.5,264v2M198.5,261v3M199.5,258v3M200.5,255v3M201.5,251v4M202.5,248v3M203.5,245v3M204.5,241v4M205.5,238v3M206.5,235v3M207.5,231v4M208.5,228v3M209.5,224v4M210.5,221v3M211.5,218v3M212.5,214v4M213.5,211v3M214.5,207v4M215.5,204v3M216.5,200v4M217.5,196v4M218.5,193v3M219.5,189v4M220.5,185v4M221.5,182v3M222.5,178v4M223.5,175v3M224.5,172v3M225.5,168v4M226.5,165v3M227.5,162v3M228.5,158v4M229.5,155v3M230.5,152v3M231.5,148v4M232.5,144v4M233.5,140v4M234.5,137v3M235.5,133v4M236.5,129v4M237.5,125v4M238.5,123v2M239.5,121v2M240.5,120v1M241.5,118v2M242.5,116v2M243.5,115v1M244.5,113v2M245.5,112v1M246.5,113v1M247,114.5h2M249.5,115v1M250.5,116v2M251.5,118v2M252.5,120v2M253.5,122v2M254.5,124v2M255.5,126v3M256.5,129v4M257.5,133v4M258.5,137v4M259.5,141v4M260.5,145v4M261.5,149v6M262.5,155v5M263.5,160v5M264.5,165v6M265.5,171v5M266.5,176v5M267.5,181v5M268.5,186v5M269.5,191v5M270.5,196v5M271.5,201v5M272.5,206v5M273.5,211v5M274.5,216v5M275.5,221v5M276.5,226v4M277.5,230v5M278.5,235v5M279.5,240v4M280.5,244v4M281.5,248v4M282.5,252v4M283.5,256v4M284.5,260v4M285.5,264v5M286.5,269v6M287.5,275v6M288.5,281v6M289.5,287v6M290.5,293v5M291.5,298v4M292.5,302v5M293.5,307v5M294.5,312v4M295.5,316v5M296.5,321v4M297.5,325v5M298.5,330v4M299.5,334v4M300.5,338v4M301.5,342v2M302.5,344v2M303.5,346v2M304.5,348v2M305,350.5h4M309,349.5h4M313.5,348v1M314.5,347v1M315.5,346v1M316.5,345v1M317.5,344v1M318.5,343v1M319,342.5h2M321,341.5h2M323,340.5h3M326,341.5h2M328,342.5h2M330.5,343v1M331,344.5h2M333.5,345v1M334.5,346v1M335,347.5h2M337.5,348v2M338.5,350v2M339.5,352v2M340.5,354v2M341.5,356v2M342.5,358v2M343.5,360v2M344.5,362v3M345.5,365v2M346.5,367v2M347.5,369v3M348.5,372v2M349.5,374v2M350.5,376v2M351.5,378v2M352.5,380v1M353.5,381v2M354.5,383v2M355.5,385v2M356.5,387v2M357.5,389v2M358.5,391v2M359.5,393v2M360.5,395v1M361.5,396v1M362.5,397v1M363,398.5h2M365.5,399v1M366.5,400v1M367.5,401v1M368.5,402v1M369.5,403v1M370.5,404v1M371.5,405v1M372.5,406v1M373.5,407v1M374.5,408v1M375.5,407v1M376,406.5h2M378.5,405v1M379,404.5h4M383,403.5h4M387,402.5h2M389,401.5h2M391,400.5h2M393.5,398v2M394.5,397v1M395.5,395v2M396.5,394v1M397.5,393v1M398.5,391v2M399.5,389v2M400.5,387v2M401.5,385v2M402.5,383v2M403.5,381v2M404.5,379v2M405.5,378v1M406.5,376v2M407.5,375v1M408.5,374v1M409.5,372v2M410.5,371v1M411,370.5h2M413.5,369v1M414.5,368v1M415.5,369v1M416,370.5h2M418.5,371v1M419.5,372v2M420.5,374v3M421.5,377v2M422.5,379v2M423.5,381v1M424.5,382v2M425.5,384v1M426.5,385v1M427.5,386v2M428.5,388v2M429.5,390v2M430.5,392v2M431.5,394v2M432.5,396v1M433.5,397v2M434.5,399v2M435.5,401v1M436.5,402v2M437,404.5h8M445,403.5h3M448.5,402v1M449.5,401v1M450.5,400v1M451.5,399v1M452.5,397v2M453.5,395v2M454.5,392v3M455.5,389v3M456.5,387v2M457.5,384v3M458.5,380v4M459.5,376v4M460.5,372v4M461.5,369v3M462.5,366v3M463.5,362v4M464.5,359v3M465.5,356v3M466.5,353v3M467.5,349v4M468.5,346v3M469.5,343v3M470.5,339v4M471.5,336v3M472.5,333v3M473.5,330v3M474.5,327v3M475.5,324v3M476.5,321v3M477.5,319v2M478.5,317v2M479.5,315v2M480.5,313v2M481.5,310v3M482.5,308v2M483.5,306v2M484.5,304v2M485.5,302v2M486.5,300v2M487.5,297v3M488.5,294v3M489.5,292v2M490.5,289v3M491.5,287v2M492.5,286v1M493.5,284v2M494.5,283v1M495.5,282v1M496,281.5h2M498,280.5h4M502,279.5h5M507,280.5h10M517,281.5h2M519,282.5h2M521,283.5h2M523,284.5h3M526,285.5h3M529.5,284v1M530,283.5h2M532.5,282v1M533.5,281v1M534,280.5h2M536.5,279v1M537.5,278v1M538,277.5h2M540,276.5h10M550,277.5h5M555,276.5h2M557,275.5h2M559.5,274v1M560.5,273v1M561.5,272v1M562.5,271v1M563,270.5h4M567.5,271v1M568.5,272v2M569.5,274v1M570.5,275v1M571.5,276v1M572.5,277v1M573.5,278v1M574.5,279v1M575.5,280v1M576.5,281v1M577,282.5h2M579,283.5h2M581.5,284v1M582.5,285v1M583.5,286v2M584.5,288v1M585.5,289v1M586.5,290v1M587.5,291v1M588,292.5h2M590.5,293v1M591,294.5h3M594,293.5h4M598,292.5h2M600,291.5h2M602,290.5h2M604,289.5h2M606,288.5h4M610,287.5h5M615,286.5h2M617,285.5h2M619.5,283v2M620.5,281v2M621.5,279v2M622.5,277v2M623.5,275v2M624.5,273v2M625.5,271v2M626.5,269v2M627.5,267v2M628.5,264v3M629.5,262v2M630.5,260v2M631.5,258v2M632.5,256v2M633.5,255v1M634.5,254v1M635.5,253v1M636,252.5h2M638.5,251v1M639.5,250v1M640.5,249v1M641.5,247v2M642.5,245v2M643.5,243v2M644.5,241v2M645.5,239v2M646.5,238v1M647.5,237v1M648.5,236v1M649.5,235v1M650.5,234v1M651.5,233v1M652.5,232v1M653.5,231v1M654.5,230v1M655.5,229v1M656.5,227v2M657.5,226v1M658.5,225v1M659.5,224v1M660.5,223v1M661.5,222v1M662.5,221v1M663.5,219v2M664.5,218v1M665.5,217v1M666.5,216v1M667.5,215v1M668.5,214v1M669.5,213v1M670.5,212v1M671.5,211v1M672.5,210v1M673.5,209v1M674,210.5h2M676,211.5h2M678,212.5h2M680,213.5h2M682,214.5h2M684,213.5h2M686,212.5h2M688,211.5h5M693,210.5h17M710,211.5h2M712,212.5h2M714.5,213v1M715,214.5h2M717,215.5h9M726,216.5h2M728,217.5h2M730,218.5h3M733,217.5h2M735,216.5h2M737.5,215v1M738,214.5h2M740.5,213v1M741.5,212v1M742,211.5h2M744.5,210v1M745.5,209v1M746.5,208v1M747.5,207v1M748.5,206v1M749.5,205v1M750.5,204v1M751,203.5h2M753.5,202v1M754,201.5h3M757,202.5h4M761,203.5h2M763,204.5h2M765,205.5h2M767.5,206v1M768.5,207v1M769.5,208v1M770.5,209v1M771.5,210v2M772.5,212v2M773.5,214v3M774.5,217v3M775.5,220v2M776.5,222v3M777.5,225v2M778.5,227v2M779.5,229v3M780.5,232v2M781.5,234v2M782.5,236v2M783.5,238v2M784.5,240v2M785.5,242v2M786.5,244v2M787.5,246v2M788.5,248v2M789.5,250v1M790.5,251v2M791.5,253v2M792.5,255v2M793.5,257v2M794.5,259v2M795.5,261v2M796.5,263v2M797.5,265v1M798.5,266v2M799.5,268v1M800.5,269v2M801.5,271v1M802.5,272v1M803.5,273v2M804.5,275v1M805.5,276v2M806.5,278v2M807.5,280v2M808.5,282v2M809.5,284v2M810.5,286v2M811.5,288v2M812.5,290v3M813.5,293v3M814.5,296v2M815.5,298v3M816.5,301v3M817.5,304v3M818.5,307v2M819.5,309v3M820.5,312v3M821.5,315v2M822.5,317v3M823.5,320v2M824.5,322v2M825.5,324v2M826.5,326v1M827.5,327v2M828.5,329v2M829.5,331v1M830.5,332v2M831.5,334v1M832.5,335v1M833.5,336v2M834.5,338v1M835.5,339v1M836.5,340v2M837.5,342v2M838.5,344v2M839.5,346v2M840.5,348v2M841.5,350v3M842.5,353v2M843.5,355v3M844.5,358v2M845.5,360v3M846.5,363v4M847.5,367v4M848.5,371v4M849.5,375v4M850.5,379v3M851.5,382v4M852.5,386v4M853.5,390v3M854.5,393v4M855.5,397v4M856.5,401v4M857.5,405v5M858.5,410v4M859.5,414v4M860.5,418v5M861.5,423v5M862.5,428v5M863.5,433v5M864.5,438v5M865.5,443v4M866.5,447v3M867.5,450v4M868.5,454v3M869.5,457v3M870.5,460v3M871.5,463v2M872.5,465v2M873.5,467v2M874.5,469v2M875.5,471v2M876.5,473v1M877.5,474v2M878.5,476v1M879.5,477v2M880.5,479v1M881.5,480v1M882.5,481v2M883.5,483v1M884.5,484v1M885.5,485v1M886.5,486v2M887.5,488v1M888.5,489v1M889.5,490v1M890.5,491v1M891.5,492v1M892.5,493v1M893.5,494v2M894.5,496v1M895.5,497v1M896,498.5h2M898,499.5h4M902,500.5h4M906,501.5h3M909.5,502v1M910.5,503v1M911.5,504v1M912.5,505v1M913.5,506v1M914,507.5h2M916,508.5h6M922,507.5h2M924.5,506v1M925.5,505v1M926.5,504v1M927.5,503v1M928.5,502v1M929.5,501v1M930,500.5h2M932,499.5h3M935,498.5h2M937.5,497v1M938.5,496v1M939.5,495v1M940.5,494v1M941.5,493v1M942.5,491v2M943.5,490v1M944.5,488v2M945.5,487v1M946.5,486v1M947.5,484v2M948.5,483v1M949.5,481v2M950.5,479v2M951.5,477v2M952.5,475v2M953.5,473v2M954.5,471v2M955.5,470v1M956.5,468v2M957.5,466v2M958.5,464v2M959.5,462v2M960.5,460v2M961.5,458v2M962.5,456v2M963.5,454v2M964.5,452v2M965.5,450v2M966.5,448v2M967.5,446v2M968.5,444v2M969.5,442v2M970.5,440v2M971.5,437v3M972.5,435v2M973.5,432v3M974.5,429v3M975.5,427v2M976.5,424v3M977.5,422v2M978.5,419v3M979.5,417v2M980.5,415v2M981.5,413v2M982.5,411v2M983.5,409v2M984.5,407v2M985.5,406v1M986.5,405v1M987.5,404v1M988.5,403v1M989.5,402v1M990.5,401v1M991.5,400v1M992,399.5h2M994.5,398v1M995.5,397v1M996,396.5h2M998.5,395v1M999.5,394v1M1000.5,393v1M1001.5,391v2M1002.5,390v1M1003.5,389v1M1004.5,388v1M1005.5,386v2M1006.5,384v2M1007.5,382v2M1008.5,380v2M1009.5,378v2M1010.5,376v2M1011.5,374v2M1012.5,373v1M1013.5,372v1M1014.5,370v2M1015.5,369v1M1016.5,368v1M1017.5,367v1M1018.5,366v1M1019.5,365v1M1020.5,364v1M1021.5,363v1M1022.5,362v1M1023.5,361v1M1024.5,359v2M1025.5,357v2M1026.5,356v1M1027.5,354v2M1028.5,353v1M1029,352.5h2M1031,351.5h2M1033,350.5h3M1036,351.5h3M1039.5,350v1M1040.5,349v1M1041.5,348v1M1042.5,347v1M1043.5,346v1M1044.5,345v1M1045.5,344v1M1046.5,343v1M1047.5,342v1M1048.5,341v1M1049.5,340v1M1050.5,339v1M1051.5,338v1M1052.5,337v1M1053,336.5h2M1055,335.5h2M1057,334.5h2M1059,333.5h3M1062,332.5h2M1064,331.5h2M1066.5,330v1M1067.5,329v1M1068.5,328v1M1069.5,327v1M1070.5,326v1M1071,325.5h4M1075.5,326v1M1076.5,327v1M1077.5,328v1M1078.5,329v1M1079.5,330v2M1080.5,332v1M1081.5,333v1M1082.5,334v2M1083.5,336v1M1084.5,337v2M1085.5,339v2M1086.5,341v2M1087.5,343v2M1088.5,345v2M1089.5,347v2M1090.5,349v2M1091.5,351v2M1092.5,353v2M1093.5,355v1M1094.5,356v2M1095.5,358v2M1096.5,360v1M1097.5,361v2M1098.5,363v1M1099.5,364v2M1100.5,366v1M1101.5,367v1M1102.5,368v2M1103.5,370v1M1104,371.5h2M1106,372.5h2M1108,373.5h2M1110.5,374v1M1111.5,375v1M1112.5,376v1M1113.5,377v1M1114.5,378v1M1115.5,379v1M1116.5,380v1M1117.5,381v1M1118.5,382v1M1119,383.5h2M1121.5,384v1M1122.5,385v1M1123,386.5h2M1125,387.5h2M1127,388.5h2M1129,389.5h2" fill="none" stroke="#ff0000" stroke-width="1"/>
<path d="M6,494.5h2M8,493.5h2M10.5,492v1M11,493.5h2M13.5,494v1M14.5,495v1M15,494.5h2M17.5,493v1M18.5,492v1M19,491.5h2M21.5,490v1M22.5,488v2M23.5,486v2M24.5,485v1M25.5,483v2M26.5,482v1M27.5,481v1M28.5,480v1M29.5,479v1M30.5,477v2M31.5,476v1M32.5,475v1M33.5,474v1M34.5,473v1M35,472.5h2M37,471.5h3M40,470.5h5M45,471.5h7M52,472.5h3M54.5,471v1M55.5,468v3M56.5,465v3M57.5,462v3M58.5,460v2M59.5,457v3M60.5,454v3M61.5,452v2M62.5,449v3M63.5,445v4M64.5,441v4M65.5,437v4M66.5,434v3M67.5,430v4M68.5,426v4M69.5,423v3M70.5,419v4M71.5,416v3M72.5,413v3M73.5,410v3M74.5,407v3M75.5,405v2M76.5,404v1M77.5,403v1M78.5,402v1M79.5,401v1M80,400.5h3M83.5,401v2M84.5,403v1M85.5,404v2M86,406.5h2M88,407.5h2M90.5,408v1M91.5,406v2M92.5,405v1M93.5,403v2M94,402.5h5M99.5,403v1M100.5,404v2M101.5,406v1M102.5,407v1M103.5,405v2M104.5,404v1M105.5,402v2M106.5,401v1M107.5,399v2M108.5,397v2M109.5,395v2M110.5,393v2M111.5,391v2M112.5,389v2M113.5,387v2M114.5,385v2M115.5,381v4M116.5,377v4M117.5,373v4M118.5,370v3M119,371.5h2M121,372.5h2M122.5,373v1M123.5,370v2M124.5,368v2M125.5,366v2M126.5,364v2M127.5,362v2M128.5,360v2M129.5,358v2M130.5,356v2M131,355.5h3M134,354.5h2M136,355.5h2M138.5,356v1M139,357.5h2M141,356.5h2M143.5,355v1M144.5,353v2M145.5,351v2M146.5,349v2M147.5,347v2M148.5,343v4M149.5,339v4M150.5,337v2M151.5,337v1M152,336.5h2M154,335.5h2M156.5,334v1M157.5,333v1M158.5,332v1M159.5,328v4M160.5,322v6M161.5,316v6M162.5,311v5M163.5,307v4M164.5,303v4M165.5,299v4M166.5,295v4M167.5,293v2M168.5,290v3M169.5,288v2M170,286.5h3M170.5,287v1M173,287.5h4M177,288.5h3M179.5,289v1M180.5,284v4M181.5,281v3M182.5,277v4M183.5,274v3M184.5,272v2M185.5,270v2M186.5,268v2M187.5,266v2M188.5,264v2M189.5,261v3M190.5,258v3M191.5,256v2M192.5,253v3M193.5,250v3M194.5,246v4M195.5,242v4M196.5,238v4M197.5,234v4M198.5,230v4M199.5,224v6M200.5,219v5M201.5,213v6M202.5,207v6M203.5,202v5M204.5,196v6M205.5,191v5M206.5,187v4M207.5,182v5M208.5,177v5M209.5,173v4M210.5,167v6M211.5,160v7M212.5,153v7M213.5,147v6M214.5,140v7M215.5,135v5M216.5,132v3M217.5,129v3M218.5,126v3M219.5,122v4M220.5,119v3M221.5,116v3M222.5,113v3M223.5,110v3M224.5,107v3M225.5,105v2M226.5,103v2M227.5,101v2M228.5,99v2M229.5,97v2M230.5,95v2M231.5,94v1M232.5,93v1M233.5,92v1M234.5,91v1M235.5,90v1M236.5,89v1M237.5,88v1M238.5,87v1M239.5,86v1M240.5,85v1M241,84.5h2M242.5,83v1M243.5,85v3M244.5,88v4M245.5,92v3M246.5,95v5M247.5,100v7M248.5,107v6M249.5,113v7M250.5,120v7M251.5,127v6M252.5,133v6M253.5,139v6M254.5,145v6M255.5,151v8M256.5,159v9M257.5,168v10M258.5,178v9M259.5,187v9M260.5,196v11M261.5,207v12M262.5,219v12M263.5,231v12M264.5,243v12M265.5,255v10M266.5,265v9M267.5,274v8M268.5,282v9M269.5,291v8M270.5,299v8M271.5,307v8M272.5,315v7M273.5,322v8M274.5,330v6M275.5,336v4M276.5,340v5M277.5,345v5M278.5,350v4M279.5,354v3M280.5,357v1M281.5,358v2M282.5,360v1M283.5,361v1M284.5,362v2M285.5,364v1M286.5,365v1M287.5,364v1M288,363.5h2M290.5,362v1M291.5,361v1M292.5,360v1M293.5,359v1M294.5,358v1M295.5,356v2M296.5,355v1M297.5,354v1M298.5,353v1M299,352.5h2M301,351.5h3M304,350.5h2M305.5,349v1M306.5,347v2M307.5,345v2M308.5,343v2M309.5,341v2M310.5,339v2M311.5,337v2M312.5,335v2M313.5,333v2M314.5,330v3M315.5,328v2M316.5,325v3M317.5,323v2M318.5,321v2M319.5,322v1M320.5,323v2M321.5,325v1M322.5,326v1M323.5,327v2M324.5,329v1M325.5,330v1M326,331.5h2M328.5,332v1M329,333.5h2M331.5,334v1M332,335.5h2M334.5,336v4M335.5,340v6M336.5,346v6M337.5,352v6M338.5,358v5M339.5,363v5M340.5,368v5M341.5,373v6M342.5,379v7M343.5,386v6M344.5,392v6M345.5,398v5M346.5,403v5M347.5,408v5M348.5,413v5M349.5,418v4M350.5,422v3M351.5,425v4M352.5,429v3M353.5,432v3M354.5,435v3M355.5,438v3M356.5,441v3M357.5,444v3M358.5,447v3M359.5,450v3M360.5,453v3M361.5,456v2M362.5,457v3M363.5,453v4M364.5,448v5M365.5,443v5M366.5,439v4M367.5,434v5M368.5,430v4M369.5,426v4M370.5,422v4M371.5,418v4M372.5,414v4M373.5,409v5M374.5,404v5M375.5,399v5M376.5,394v5M377.5,389v5M378.5,385v4M379.5,381v4M380.5,377v4M381.5,373v4M382.5,368v5M383.5,364v4M384.5,359v5M385.5,355v4M386.5,353v2M387.5,351v2M388.5,349v2M389.5,347v2M390.5,346v1M391.5,347v2M392.5,349v2M393.5,351v2M394.5,353v1M395.5,354v1M396.5,355v1M397,356.5h2M399.5,357v1M400.5,358v1M401.5,359v1M402.5,360v1M403.5,361v2M404.5,363v2M405.5,365v2M406.5,367v2M407.5,369v2M408.5,371v1M409.5,372v2M410.5,374v1M411.5,375v2M412.5,377v1M413.5,378v2M414.5,380v3M415.5,383v6M416.5,389v5M417.5,394v4M418.5,398v2M419.5,400v3M420.5,403v2M421.5,405v2M422.5,407v3M423.5,410v2M424.5,412v3M425.5,415v2M426.5,417v2M427.5,419v2M428.5,421v2M429.5,423v2M430.5,425v1M431.5,426v2M432.5,428v2M433.5,430v1M434.5,431v2M435,433.5h5M439.5,432v1M440.5,429v3M441.5,425v4M442.5,422v3M443.5,417v5M444.5,411v6M445.5,405v6M446.5,399v6M447.5,393v6M448.5,387v6M449.5,379v8M450.5,372v7M451.5,365v7M452.5,357v8M453.5,351v6M454.5,345v6M455.5,339v6M456.5,334v5M457.5,328v6M458.5,322v6M459.5,316v6M460.5,309v7M461.5,303v6M462.5,297v6M463.5,292v5M464.5,288v4M465.5,284v4M466.5,280v4M467.5,276v4M468.5,272v4M469.5,269v3M470.5,266v3M471.5,263v3M472.5,261v2M473.5,258v3M474.5,255v3M475.5,253v2M476.5,251v2M477.5,249v2M478.5,248v1M479.5,249v2M480.5,251v2M481.5,253v1M482.5,254v2M483.5,256v2M484.5,258v4M485.5,262v3M486.5,265v3M487.5,268v4M488.5,272v3M489.5,275v2M490.5,277v3M491.5,280v2M492.5,282v2M493.5,284v3M494.5,287v2M495.5,289v3M496.5,292v2M497.5,294v2M498.5,296v2M499.5,298v2M500.5,300v2M501.5,302v2M502.5,304v2M503.5,306v2M504.5,308v1M505.5,309v2M506.5,310v2M507.5,307v3M508.5,304v3M509.5,301v3M510.5,298v3M511.5,295v3M512.5,293v2M513.5,291v2M514.5,289v2M515.5,287v2M516.5,286v1M517.5,285v1M518.5,284v1M519.5,282v2M520.5,281v1M521.5,280v1M522.5,279v1M523.5,278v1M524.5,276v2M525.5,275v1M526.5,274v1M527.5,272v2M528.5,269v3M529.5,264v5M530.5,259v5M531.5,256v3M532.5,254v2M533.5,252v2M534.5,250v2M535,249.5h2M537,250.5h2M538.5,251v1M539.5,252v2M540.5,254v2M541.5,256v2M542.5,258v2M543.5,260v2M544.5,262v2M545.5,264v2M546.5,266v2M547.5,268v2M548.5,270v1M549.5,271v2M550.5,273v1M551.5,274v2M552.5,276v1M553.5,277v1M554.5,278v2M555.5,280v1M556.5,281v2M557.5,283v2M558.5,285v1M559.5,286v2M560.5,288v2M561.5,290v1M562,289.5h2M564,288.5h2M566.5,287v1M567,288.5h2M569,289.5h2M571,290.5h4M575,291.5h5M580,290.5h2M582.5,289v1M583.5,290v1M584.5,291v1M585.5,292v1M586.5,293v1M587.5,294v1M588.5,295v2M589.5,297v1M590,298.5h3M593,299.5h2M595.5,298v1M596.5,297v1M597.5,296v1M598.5,295v1M599.5,294v1M600.5,293v1M601.5,292v1M602,291.5h2M604.5,290v1M605.5,289v1M606.5,288v1M607,287.5h2M609,286.5h2M611,285.5h2M613.5,284v1M614.5,282v2M615.5,281v1M616.5,279v2M617.5,278v1M618.5,276v2M619.5,273v3M620.5,269v4M621.5,265v4M622.5,261v4M623.5,257v4M624.5,253v4M625.5,250v3M626.5,246v4M627.5,243v3M628.5,240v3M629.5,236v4M630.5,233v3M631.5,230v3M632.5,228v2M633.5,226v2M634.5,224v2M635.5,222v2M636.5,220v2M637.5,218v2M638.5,216v2M639.5,215v1M640.5,214v1M641,213.5h2M643.5,212v1M644.5,211v1M645.5,210v1M646,211.5h2M648,212.5h2M650.5,213v1M651.5,214v1M652.5,215v2M653.5,217v1M654.5,218v1M655,219.5h7M662,218.5h2M664,217.5h2M666.5,216v1M667.5,214v2M668.5,212v2M669.5,210v2M670.5,208v2M671,207.5h2M673,206.5h2M675.5,205v1M676.5,206v1M677.5,207v2M678.5,209v1M679,210.5h5M684,209.5h2M686,208.5h2M688,207.5h3M691,208.5h2M693,209.5h2M695,210.5h3M698,211.5h2M700,212.5h2M702,213.5h4M706,212.5h4M710.5,213v2M711.5,215v2M712.5,217v1M713.5,218v2M714,220.5h2M716,221.5h2M718,222.5h2M720,221.5h2M722,220.5h2M724,221.5h2M726,222.5h3M729,223.5h3M732,224.5h2M734.5,223v1M735.5,222v1M736.5,221v1M737.5,219v2M738.5,215v4M739.5,212v3M740.5,208v4M741.5,205v3M742.5,203v2M743.5,201v2M744.5,199v2M745.5,197v2M746.5,194v3M747.5,192v2M748.5,190v2M749.5,188v2M750.5,186v2M751.5,185v1M752.5,184v1M753.5,182v2M754.5,181v1M755,180.5h4M759.5,181v1M760.5,182v2M761.5,184v1M762.5,185v2M763.5,187v2M764.5,189v2M765.5,191v2M766.5,193v2M767.5,195v4M768.5,199v4M769.5,203v4M770.5,207v5M771.5,212v8M772.5,220v7M773.5,227v7M774.5,234v6M775.5,240v6M776.5,246v6M777.5,252v6M778.5,258v6M779.5,264v6M780.5,270v7M781.5,277v7M782.5,284v7M783.5,291v7M784.5,298v5M785.5,303v3M786.5,306v3M787.5,309v2M788.5,311v3M789.5,314v3M790.5,317v3M791.5,320v3M792.5,323v2M793.5,325v3M794.5,328v2M795.5,327v2M796.5,325v2M797.5,323v2M798.5,321v2M799.5,318v3M800.5,314v4M801.5,310v4M802.5,306v4M803.5,302v4M804.5,299v3M805.5,295v4M806.5,291v4M807.5,287v4M808.5,283v4M809.5,281v2M810.5,280v1M811,279.5h2M813,280.5h2M814.5,281v1M815.5,282v4M816.5,286v4M817.5,290v3M818.5,293v4M819.5,297v4M820.5,301v5M821.5,306v5M822.5,311v5M823.5,316v5M824.5,321v5M825.5,326v6M826.5,332v6M827.5,338v6M828.5,344v6M829.5,350v6M830.5,356v6M831.5,362v6M832.5,368v6M833.5,374v6M834.5,380v7M835.5,387v8M836.5,395v7M837.5,402v6M838.5,408v5M839.5,413v6M840.5,419v5M841.5,424v4M842.5,428v4M843.5,432v3M844.5,435v3M845.5,438v4M846.5,442v3M847.5,445v2M848.5,447v3M849.5,450v3M850.5,453v2M851.5,455v3M852.5,458v2M853.5,460v3M854.5,463v3M855.5,466v2M856.5,468v3M857.5,471v2M858.5,473v3M859.5,476v3M860.5,479v2M861.5,481v3M862.5,484v3M863.5,487v2M864.5,489v3M865.5,492v2M866,493.5h3M869,494.5h6M875,493.5h5M880,494.5h2M882,495.5h2M884,496.5h2M886,497.5h2M888,496.5h2M890,495.5h2M892,496.5h2M894.5,497v1M895.5,498v1M896.5,499v2M897.5,501v1M898.5,502v1M899.5,503v1M900,504.5h2M902.5,505v1M903.5,506v1M904.5,507v1M905.5,508v1M906.5,509v1M907.5,510v1M908.5,511v2M909.5,513v2M910.5,515v2M911.5,517v1M912,518.5h2M914.5,519v1M915,520.5h2M917,521.5h3M920,520.5h2M922.5,519v1M923.5,517v2M924.5,516v1M925.5,514v2M926.5,510v4M927.5,506v4M928.5,503v3M929.5,501v2M930.5,499v2M931.5,497v2M932.5,495v2M933.5,493v2M934.5,490v3M935.5,486v4M936.5,483v3M937.5,479v4M938.5,475v4M939.5,471v4M940.5,467v4M941.5,464v3M942.5,461v3M943.5,458v3M944.5,455v3M945.5,452v3M946.5,449v3M947.5,447v2M948.5,445v2M949.5,443v2M950.5,442v1M951.5,441v1M952,440.5h2M954.5,439v1M955.5,438v1M956.5,436v2M957.5,434v2M958.5,433v1M959.5,431v2M960.5,430v1M961.5,428v2M962.5,426v2M963.5,424v2M964.5,422v2M965.5,421v1M966.5,420v1M967.5,419v1M968.5,418v1M969.5,417v1M970.5,416v1M971.5,415v1M972.5,413v2M973.5,412v1M974.5,411v1M975.5,408v3M976.5,404v4M977.5,400v4M978.5,396v4M979.5,391v5M980.5,387v4M981.5,383v4M982.5,381v2M983.5,380v1M984.5,379v1M985.5,378v1M986,377.5h8M994.5,376v1M995,375.5h2M997.5,374v1M998,373.5h3M1001,372.5h4M1005,371.5h2M1007,370.5h2M1009,369.5h2M1011,368.5h2M1013,367.5h2M1015.5,365v2M1016.5,363v2M1017.5,361v2M1018.5,359v2M1019.5,357v2M1020.5,354v3M1021.5,350v4M1022.5,347v3M1023.5,344v3M1024.5,340v4M1025.5,338v2M1026.5,336v2M1027.5,334v2M1028.5,332v2M1029.5,330v2M1030,329.5h2M1032,330.5h2M1034,331.5h2M1036,332.5h2M1038.5,333v1M1039.5,332v1M1040.5,331v1M1041.5,330v1M1042.5,329v1M1043.5,328v1M1044,329.5h2M1046.5,330v1M1047.5,331v1M1048.5,332v1M1049.5,333v1M1050.5,334v1M1051,335.5h3M1054,336.5h5M1059,335.5h3M1062,334.5h2M1064,333.5h2M1066.5,332v1M1067.5,331v1M1068.5,329v2M1069.5,328v1M1070.5,327v1M1071.5,325v2M1072.5,323v2M1073.5,321v2M1074.5,319v2M1075.5,320v2M1076.5,322v1M1077.5,323v2M1078.5,325v2M1079.5,327v2M1080.5,329v2M1081.5,331v2M1082.5,333v2M1083.5,335v3M1084.5,338v3M1085.5,341v3M1086.5,344v3M1087.5,347v3M1088.5,350v4M1089.5,354v5M1090.5,359v5M1091.5,364v4M1092.5,368v5M1093.5,373v5M1094.5,378v4M1095.5,382v4M1096.5,386v4M1097.5,390v5M1098.5,395v5M1099.5,400v4M1100.5,404v6M1101.5,410v6M1102.5,416v3M1103,418.5h4M1107.5,416v2M1108.5,415v1M1109.5,414v1M1110.5,412v2M1111.5,411v1M1112.5,409v2M1113.5,407v2M1114.5,406v1M1115.5,404v2M1116.5,402v2M1117.5,400v2M1118.5,398v2M1119.5,396v2M1120.5,394v2M1121.5,392v2M1122.5,389v3M1123.5,386v3M1124.5,383v3M1125.5,379v4M1126.5,375v4M1127.5,371v4M1128.5,367v4M1129.5,365v2M1130.5,363v2" fill="none" stroke="#0000e0" stroke-width="1"/>
</g>
<g>
<rect x="6" y="47" width="1415" height="3" fill="#ff0000"/>
<rect x="6" y="156" width="1415" height="3" fill="#ff0000"/>
<rect x="6" y="294" width="1415" height="3" fill="#00ff00"/>
<rect x="6" y="419" width="1415" height="3" fill="#0000ff"/>
<rect x="6" y="558" width="1415" height="3" fill="#0000ff"/>
</g>
<polygon points="1131,23 1142,23 1136.5,28" fill="#c0c0c0"/>
<g clip-path="url(#c2)">
<rect x="6" y="605" width="1" height="14" fill="#c0c0c0"/>
<rect x="10" y="604" width="1" height="15" fill="#c0c0c0"/>
<rect x="14" y="603" width="1" height="16" fill="#c0c0c0"/>
<rect x="18" y="601" width="1" height="18" fill="#c0c0c0"/>
<rect x="22" y="600" width="1" height="19" fill="#c0c0c0"/>
<rect x="26" y="599" width="1" height="20" fill="#c0c0c0"/>
<rect x="30" y="602" width="1" height="17" fill="#c0c0c0"/>
<rect x="34" y="601" width="1" height="18" fill="#c0c0c0"/>
<rect x="38" y="601" width="1" height="18" fill="#c0c0c0"/>
<rect x="42" y="603" width="1" height="16" fill="#c0c0c0"/>
<rect x="46" y="603" width="1" height="16" fill="#c0c0c0"/>
<rect x="50" y="604" width="1" height="15" fill="#c0c0c0"/>
<rect x="54" y="603" width="1" height="16" fill="#c0c0c0"/>
<rect x="58" y="601" width="1" height="18" fill="#c0c0c0"/>
<rect x="62" y="599" width="1" height="20" fill="#c0c0c0"/>
<rect x="66" y="596" width="1" height="23" fill="#c0c0c0"/>
<rect x="70" y="594" width="1" height="25" fill="#c0c0c0"/>
<rect x="74" y="593" width="1" height="26" fill="#c0c0c0"/>
<rect x="78" y="594" width="1" height="25" fill="#c0c0c0"/>
<rect x="82" y="597" width="1" height="22" fill="#c0c0c0"/>
<rect x="86" y="600" width="1" height="19" fill="#c0c0c0"/>
<rect x="90" y="601" width="1" height="18" fill="#c0c0c0"/>
<rect x="94" y="597" width="1" height="22" fill="#c0c0c0"/>
<rect x="98" y="596" width="1" height="23" fill="#c0c0c0"/>
<rect x="102" y="599" width="1" height="20" fill="#c0c0c0"/>
<rect x="106" y="599" width="1" height="20" fill="#c0c0c0"/>
<rect x="110" y="599" width="1" height="20" fill="#c0c0c0"/>
<rect x="114" y="598" width="1" height="21" fill="#c0c0c0"/>
<rect x="118" y="596" width="1" height="23" fill="#c0c0c0"/>
<rect x="122" y="596" width="1" height="23" fill="#c0c0c0"/>
<rect x="126" y="596" width="1" height="23" fill="#c0c0c0"/>
<rect x="130" y="596" width="1" height="23" fill="#c0c0c0"/>
<rect x="134" y="596" width="1" height="23" fill="#c0c0c0"/>
<rect x="138" y="601" width="1" height="18" fill="#c0c0c0"/>
<rect x="142" y="602" width="1" height="17" fill="#c0c0c0"/>
<rect x="146" y="598" width="1" height="21" fill="#c0c0c0"/>
<rect x="150" y="595" width="1" height="24" fill="#c0c0c0"/>
<rect x="154" y="594" width="1" height="25" fill="#c0c0c0"/>
<rect x="158" y="594" width="1" height="25" fill="#c0c0c0"/>
<rect x="162" y="593" width="1" height="26" fill="#c0c0c0"/>
<rect x="166" y="592" width="1" height="27" fill="#c0c0c0"/>
<rect x="170" y="593" width="1" height="26" fill="#c0c0c0"/>
<rect x="174" y="593" width="1" height="26" fill="#c0c0c0"/>
<rect x="178" y="593" width="1" height="26" fill="#c0c0c0"/>
<rect x="182" y="592" width="1" height="27" fill="#c0c0c0"/>
<rect x="186" y="590" width="1" height="29" fill="#c0c0c0"/>
<rect x="190" y="588" width="1" height="31" fill="#c0c0c0"/>
<rect x="194" y="585" width="1" height="34" fill="#c0c0c0"/>
<rect x="198" y="580" width="1" height="39" fill="#c0c0c0"/>
<rect x="202" y="576" width="1" height="43" fill="#c0c0c0"/>
<rect x="206" y="574" width="1" height="45" fill="#c0c0c0"/>
<rect x="210" y="572" width="1" height="47" fill="#c0c0c0"/>
<rect x="214" y="572" width="1" height="47" fill="#c0c0c0"/>
<rect x="218" y="571" width="1" height="48" fill="#c0c0c0"/>
<rect x="222" y="570" width="1" height="49" fill="#c0c0c0"/>
<rect x="226" y="570" width="1" height="49" fill="#c0c0c0"/>
<rect x="230" y="570" width="1" height="49" fill="#c0c0c0"/>
<rect x="234" y="570" width="1" height="49" fill="#c0c0c0"/>
<rect x="238" y="571" width="1" height="48" fill="#c0c0c0"/>
<rect x="242" y="572" width="1" height="47" fill="#c0c0c0"/>
<rect x="246" y="581" width="1" height="38" fill="#c0c0c0"/>
<rect x="250" y="591" width="1" height="28" fill="#c0c0c0"/>
<rect x="254" y="600" width="1" height="19" fill="#c0c0c0"/>
<rect x="258" y="610" width="1" height="9" fill="#c0c0c0"/>
<rect x="262" y="618" width="1" height="1" fill="#c0c0c0"/>
<rect x="266" y="618" width="1" height="11" fill="#c0c0c0"/>
<rect x="270" y="618" width="1" height="16" fill="#c0c0c0"/>
<rect x="274" y="618" width="1" height="21" fill="#c0c0c0"/>
<rect x="278" y="618" width="1" height="23" fill="#c0c0c0"/>
<rect x="282" y="618" width="1" height="24" fill="#c0c0c0"/>
<rect x="286" y="618" width="1" height="26" fill="#c0c0c0"/>
<rect x="290" y="618" width="1" height="26" fill="#c0c0c0"/>
<rect x="294" y="618" width="1" height="26" fill="#c0c0c0"/>
<rect x="298" y="618" width="1" height="26" fill="#c0c0c0"/>
<rect x="302" y="618" width="1" height="24" fill="#c0c0c0"/>
<rect x="306" y="618" width="1" height="22" fill="#c0c0c0"/>
<rect x="310" y="618" width="1" height="19" fill="#c0c0c0"/>
<rect x="314" y="618" width="1" height="16" fill="#c0c0c0"/>
<rect x="318" y="618" width="1" height="14" fill="#c0c0c0"/>
<rect x="322" y="618" width="1" height="17" fill="#c0c0c0"/>
<rect x="326" y="618" width="1" height="19" fill="#c0c0c0"/>
<rect x="330" y="618" width="1" height="20" fill="#c0c0c0"/>
<rect x="334" y="618" width="1" height="21" fill="#c0c0c0"/>
<rect x="338" y="618" width="1" height="22" fill="#c0c0c0"/>
<rect x="342" y="618" width="1" height="26" fill="#c0c0c0"/>
<rect x="346" y="618" width="1" height="31" fill="#c0c0c0"/>
<rect x="350" y="618" width="1" height="33" fill="#c0c0c0"/>
<rect x="354" y="618" width="1" height="34" fill="#c0c0c0"/>
<rect x="358" y="618" width="1" height="34" fill="#c0c0c0"/>
<rect x="362" y="618" width="1" height="29" fill="#c0c0c0"/>
<rect x="366" y="618" width="1" height="23" fill="#c0c0c0"/>
<rect x="370" y="618" width="1" height="17" fill="#c0c0c0"/>
<rect x="374" y="618" width="1" height="13" fill="#c0c0c0"/>
<rect x="378" y="618" width="1" height="9" fill="#c0c0c0"/>
<rect x="382" y="618" width="1" height="9" fill="#c0c0c0"/>
<rect x="386" y="618" width="1" height="8" fill="#c0c0c0"/>
<rect x="390" y="618" width="1" height="5" fill="#c0c0c0"/>
<rect x="394" y="618" width="1" height="4" fill="#c0c0c0"/>
<rect x="398" y="618" width="1" height="4" fill="#c0c0c0"/>
<rect x="402" y="618" width="1" height="4" fill="#c0c0c0"/>
<rect x="406" y="618" width="1" height="5" fill="#c0c0c0"/>
<rect x="410" y="618" width="1" height="7" fill="#c0c0c0"/>
<rect x="414" y="618" width="1" height="7" fill="#c0c0c0"/>
<rect x="418" y="618" width="1" height="11" fill="#c0c0c0"/>
<rect x="422" y="618" width="1" height="13" fill="#c0c0c0"/>
<rect x="426" y="618" width="1" height="13" fill="#c0c0c0"/>
<rect x="430" y="618" width="1" height="13" fill="#c0c0c0"/>
<rect x="434" y="618" width="1" height="14" fill="#c0c0c0"/>
<rect x="438" y="618" width="1" height="14" fill="#c0c0c0"/>
<rect x="442" y="618" width="1" height="8" fill="#c0c0c0"/>
<rect x="446" y="618" width="1" height="4" fill="#c0c0c0"/>
<rect x="450" y="618" width="1" height="1" fill="#c0c0c0"/>
<rect x="454" y="614" width="1" height="5" fill="#c0c0c0"/>
<rect x="458" y="606" width="1" height="13" fill="#c0c0c0"/>
<rect x="462" y="600" width="1" height="19" fill="#c0c0c0"/>
<rect x="466" y="597" width="1" height="22" fill="#c0c0c0"/>
<rect x="470" y="595" width="1" height="24" fill="#c0c0c0"/>
<rect x="474" y="594" width="1" height="25" fill="#c0c0c0"/>
<rect x="478" y="595" width="1" height="24" fill="#c0c0c0"/>
<rect x="482" y="598" width="1" height="21" fill="#c0c0c0"/>
<rect x="486" y="601" width="1" height="18" fill="#c0c0c0"/>
<rect x="490" y="602" width="1" height="17" fill="#c0c0c0"/>
<rect x="494" y="603" width="1" height="16" fill="#c0c0c0"/>
<rect x="498" y="604" width="1" height="15" fill="#c0c0c0"/>
<rect x="502" y="606" width="1" height="13" fill="#c0c0c0"/>
<rect x="506" y="609" width="1" height="10" fill="#c0c0c0"/>
<rect x="510" y="608" width="1" height="11" fill="#c0c0c0"/>
<rect x="514" y="606" width="1" height="13" fill="#c0c0c0"/>
<rect x="518" y="603" width="1" height="16" fill="#c0c0c0"/>
<rect x="522" y="603" width="1" height="16" fill="#c0c0c0"/>
<rect x="526" y="603" width="1" height="16" fill="#c0c0c0"/>
<rect x="530" y="603" width="1" height="16" fill="#c0c0c0"/>
<rect x="534" y="602" width="1" height="17" fill="#c0c0c0"/>
<rect x="538" y="604" width="1" height="15" fill="#c0c0c0"/>
<rect x="542" y="607" width="1" height="12" fill="#c0c0c0"/>
<rect x="546" y="610" width="1" height="9" fill="#c0c0c0"/>
<rect x="550" y="611" width="1" height="8" fill="#c0c0c0"/>
<rect x="554" y="613" width="1" height="6" fill="#c0c0c0"/>
<rect x="558" y="613" width="1" height="6" fill="#c0c0c0"/>
<rect x="562" y="612" width="1" height="7" fill="#c0c0c0"/>
<rect x="566" y="612" width="1" height="7" fill="#c0c0c0"/>
<rect x="570" y="615" width="1" height="4" fill="#c0c0c0"/>
<rect x="574" y="616" width="1" height="3" fill="#c0c0c0"/>
<rect x="578" y="618" width="1" height="1" fill="#c0c0c0"/>
<rect x="582" y="618" width="1" height="1" fill="#c0c0c0"/>
<rect x="586" y="618" width="1" height="1" fill="#c0c0c0"/>
<rect x="590" y="618" width="1" height="1" fill="#c0c0c0"/>
<rect x="594" y="618" width="1" height="1" fill="#c0c0c0"/>
<rect x="598" y="617" width="1" height="2" fill="#c0c0c0"/>
<rect x="602" y="617" width="1" height="2" fill="#c0c0c0"/>
<rect x="606" y="617" width="1" height="2" fill="#c0c0c0"/>
<rect x="610" y="616" width="1" height="3" fill="#c0c0c0"/>
<rect x="614" y="617" width="1" height="2" fill="#c0c0c0"/>
<rect x="618" y="614" width="1" height="5" fill="#c0c0c0"/>
<rect x="622" y="609" width="1" height="10" fill="#c0c0c0"/>
<rect x="626" y="606" width="1" height="13" fill="#c0c0c0"/>
<rect x="630" y="604" width="1" height="15" fill="#c0c0c0"/>
<rect x="634" y="603" width="1" height="16" fill="#c0c0c0"/>
<rect x="638" y="603" width="1" height="16" fill="#c0c0c0"/>
<rect x="642" y="606" width="1" height="13" fill="#c0c0c0"/>
<rect x="646" y="607" width="1" height="12" fill="#c0c0c0"/>
<rect x="650" y="605" width="1" height="14" fill="#c0c0c0"/>
<rect x="654" y="606" width="1" height="13" fill="#c0c0c0"/>
<rect x="658" y="605" width="1" height="14" fill="#c0c0c0"/>
<rect x="662" y="606" width="1" height="13" fill="#c0c0c0"/>
<rect x="666" y="605" width="1" height="14" fill="#c0c0c0"/>
<rect x="670" y="604" width="1" height="15" fill="#c0c0c0"/>
<rect x="674" y="605" width="1" height="14" fill="#c0c0c0"/>
<rect x="678" y="607" width="1" height="12" fill="#c0c0c0"/>
<rect x="682" y="608" width="1" height="11" fill="#c0c0c0"/>
<rect x="686" y="608" width="1" height="11" fill="#c0c0c0"/>
<rect x="690" y="608" width="1" height="11" fill="#c0c0c0"/>
<rect x="694" y="609" width="1" height="10" fill="#c0c0c0"/>
<rect x="698" y="610" width="1" height="9" fill="#c0c0c0"/>
<rect x="702" y="611" width="1" height="8" fill="#c0c0c0"/>
<rect x="706" y="611" width="1" height="8" fill="#c0c0c0"/>
<rect x="710" y="613" width="1" height="6" fill="#c0c0c0"/>
<rect x="714" y="615" width="1" height="4" fill="#c0c0c0"/>
<rect x="718" y="616" width="1" height="3" fill="#c0c0c0"/>
<rect x="722" y="614" width="1" height="5" fill="#c0c0c0"/>
<rect x="726" y="615" width="1" height="4" fill="#c0c0c0"/>
<rect x="730" y="615" width="1" height="4" fill="#c0c0c0"/>
<rect x="734" y="616" width="1" height="3" fill="#c0c0c0"/>
<rect x="738" y="614" width="1" height="5" fill="#c0c0c0"/>
<rect x="742" y="612" width="1" height="7" fill="#c0c0c0"/>
<rect x="746" y="609" width="1" height="10" fill="#c0c0c0"/>
<rect x="750" y="608" width="1" height="11" fill="#c0c0c0"/>
<rect x="754" y="607" width="1" height="12" fill="#c0c0c0"/>
<rect x="758" y="610" width="1" height="9" fill="#c0c0c0"/>
<rect x="762" y="614" width="1" height="5" fill="#c0c0c0"/>
<rect x="766" y="616" width="1" height="3" fill="#c0c0c0"/>
<rect x="770" y="618" width="1" height="2" fill="#c0c0c0"/>
<rect x="774" y="618" width="1" height="8" fill="#c0c0c0"/>
<rect x="778" y="618" width="1" height="14" fill="#c0c0c0"/>
<rect x="782" y="618" width="1" height="18" fill="#c0c0c0"/>
<rect x="786" y="618" width="1" height="21" fill="#c0c0c0"/>
<rect x="790" y="618" width="1" height="20" fill="#c0c0c0"/>
<rect x="794" y="618" width="1" height="20" fill="#c0c0c0"/>
<rect x="798" y="618" width="1" height="16" fill="#c0c0c0"/>
<rect x="802" y="618" width="1" height="12" fill="#c0c0c0"/>
<rect x="806" y="618" width="1" height="10" fill="#c0c0c0"/>
<rect x="810" y="618" width="1" height="9" fill="#c0c0c0"/>
<rect x="814" y="618" width="1" height="13" fill="#c0c0c0"/>
<rect x="818" y="618" width="1" height="18" fill="#c0c0c0"/>
<rect x="822" y="618" width="1" height="22" fill="#c0c0c0"/>
<rect x="826" y="618" width="1" height="26" fill="#c0c0c0"/>
<rect x="830" y="618" width="1" height="28" fill="#c0c0c0"/>
<rect x="834" y="618" width="1" height="30" fill="#c0c0c0"/>
<rect x="838" y="618" width="1" height="34" fill="#c0c0c0"/>
<rect x="842" y="618" width="1" height="38" fill="#c0c0c0"/>
<rect x="846" y="618" width="1" height="40" fill="#c0c0c0"/>
<rect x="850" y="618" width="1" height="42" fill="#c0c0c0"/>
<rect x="854" y="618" width="1" height="41" fill="#c0c0c0"/>
<rect x="858" y="618" width="1" height="41" fill="#c0c0c0"/>
<rect x="862" y="618" width="1" height="42" fill="#c0c0c0"/>
<rect x="866" y="618" width="1" height="43" fill="#c0c0c0"/>
<rect x="870" y="618" width="1" height="42" fill="#c0c0c0"/>
<rect x="874" y="618" width="1" height="41" fill="#c0c0c0"/>
<rect x="878" y="618" width="1" height="39" fill="#c0c0c0"/>
<rect x="882" y="618" width="1" height="35" fill="#c0c0c0"/>
<rect x="886" y="618" width="1" height="34" fill="#c0c0c0"/>
<rect x="890" y="618" width="1" height="33" fill="#c0c0c0"/>
<rect x="894" y="618" width="1" height="34" fill="#c0c0c0"/>
<rect x="898" y="618" width="1" height="34" fill="#c0c0c0"/>
<rect x="902" y="618" width="1" height="32" fill="#c0c0c0"/>
<rect x="906" y="618" width="1" height="30" fill="#c0c0c0"/>
<rect x="910" y="618" width="1" height="29" fill="#c0c0c0"/>
<rect x="914" y="618" width="1" height="28" fill="#c0c0c0"/>
<rect x="918" y="618" width="1" height="26" fill="#c0c0c0"/>
<rect x="922" y="618" width="1" height="25" fill="#c0c0c0"/>
<rect x="926" y="618" width="1" height="20" fill="#c0c0c0"/>
<rect x="930" y="618" width="1" height="16" fill="#c0c0c0"/>
<rect x="934" y="618" width="1" height="12" fill="#c0c0c0"/>
<rect x="938" y="618" width="1" height="9" fill="#c0c0c0"/>
<rect x="942" y="618" width="1" height="6" fill="#c0c0c0"/>
<rect x="946" y="618" width="1" height="3" fill="#c0c0c0"/>
<rect x="950" y="618" width="1" height="1" fill="#c0c0c0"/>
<rect x="954" y="618" width="1" height="1" fill="#c0c0c0"/>
<rect x="958" y="616" width="1" height="3" fill="#c0c0c0"/>
<rect x="962" y="614" width="1" height="5" fill="#c0c0c0"/>
<rect x="966" y="612" width="1" height="7" fill="#c0c0c0"/>
<rect x="970" y="611" width="1" height="8" fill="#c0c0c0"/>
<rect x="974" y="609" width="1" height="10" fill="#c0c0c0"/>
<rect x="978" y="606" width="1" height="13" fill="#c0c0c0"/>
<rect x="982" y="602" width="1" height="17" fill="#c0c0c0"/>
<rect x="986" y="602" width="1" height="17" fill="#c0c0c0"/>
<rect x="990" y="604" width="1" height="15" fill="#c0c0c0"/>
<rect x="994" y="606" width="1" height="13" fill="#c0c0c0"/>
<rect x="998" y="606" width="1" height="13" fill="#c0c0c0"/>
<rect x="1002" y="606" width="1" height="13" fill="#c0c0c0"/>
<rect x="1006" y="602" width="1" height="17" fill="#c0c0c0"/>
<rect x="1010" y="600" width="1" height="19" fill="#c0c0c0"/>
<rect x="1014" y="601" width="1" height="18" fill="#c0c0c0"/>
<rect x="1018" y="601" width="1" height="18" fill="#c0c0c0"/>
<rect x="1022" y="599" width="1" height="20" fill="#c0c0c0"/>
<rect x="1026" y="599" width="1" height="20" fill="#c0c0c0"/>
<rect x="1030" y="599" width="1" height="20" fill="#c0c0c0"/>
<rect x="1034" y="600" width="1" height="19" fill="#c0c0c0"/>
<rect x="1038" y="600" width="1" height="19" fill="#c0c0c0"/>
<rect x="1042" y="601" width="1" height="18" fill="#c0c0c0"/>
<rect x="1046" y="603" width="1" height="16" fill="#c0c0c0"/>
<rect x="1050" y="604" width="1" height="15" fill="#c0c0c0"/>
<rect x="1054" y="604" width="1" height="15" fill="#c0c0c0"/>
<rect x="1058" y="605" width="1" height="14" fill="#c0c0c0"/>
<rect x="1062" y="605" width="1" height="14" fill="#c0c0c0"/>
<rect x="1066" y="605" width="1" height="14" fill="#c0c0c0"/>
<rect x="1070" y="604" width="1" height="15" fill="#c0c0c0"/>
<rect x="1074" y="604" width="1" height="15" fill="#c0c0c0"/>
<rect x="1078" y="608" width="1" height="11" fill="#c0c0c0"/>
<rect x="1082" y="612" width="1" height="7" fill="#c0c0c0"/>
<rect x="1086" y="617" width="1" height="2" fill="#c0c0c0"/>
<rect x="1090" y="618" width="1" height="2" fill="#c0c0c0"/>
<rect x="1094" y="618" width="1" height="5" fill="#c0c0c0"/>
<rect x="1098" y="618" width="1" height="9" fill="#c0c0c0"/>
<rect x="1102" y="618" width="1" height="10" fill="#c0c0c0"/>
<rect x="1106" y="618" width="1" height="9" fill="#c0c0c0"/>
<rect x="1110" y="618" width="1" height="6" fill="#c0c0c0"/>
<rect x="1114" y="618" width="1" height="5" fill="#c0c0c0"/>
<rect x="1118" y="618" width="1" height="5" fill="#c0c0c0"/>
<rect x="1122" y="618" width="1" height="4" fill="#c0c0c0"/>
<rect x="1126" y="618" width="1" height="1" fill="#c0c0c0"/>
<rect x="1130" y="617" width="1" height="2" fill="#c0c0c0"/>
<path d="M6,607.5h2M8.5,606v1M12,605.5h3M18.5,603v1M19,602.5h2M24,602.5h3M30,601.5h3M36,601.5h3M42,601.5h3M48,601.5h3M54,601.5h3M60,601.5h3M66,600.5h3M72,599.5h3M78,598.5h2M80.5,597v1M84,597.5h2M86.5,596v1M90,596.5h3M96,596.5h3M102,596.5h3M108,597.5h3M114,597.5h3M120,597.5h3M126,597.5h3M132,597.5h3M138,597.5h3M144,597.5h3M150,596.5h3M156,596.5h3M162,596.5h2M164.5,595v1M168,595.5h3M174,594.5h3M180,593.5h3M186,592.5h3M192,591.5h3M198,590.5h2M200.5,589v1M204,587.5h2M206.5,586v1M210.5,584v1M211,583.5h2M216.5,581v1M217,580.5h2M222.5,578v1M223,577.5h2M228.5,575v1M229,574.5h2M234,572.5h3M240,571.5h3M246.5,572v1M247,573.5h2M252.5,575v1M253.5,576v1M254.5,577v1M258.5,581v1M259.5,582v1M260.5,583v1M262.5,587v1M263.5,588v1M264.5,589v1M266.5,593v2M267.5,595v1M269.5,599v1M270.5,600v2M272.5,605v1M273.5,606v2M275.5,611v1M276.5,612v2M279.5,617v2M280.5,619v1M282.5,623v2M283.5,625v1M286.5,629v1M287.5,630v1M288.5,631v1M291.5,635v1M292.5,636v1M293.5,637v1M297.5,639v1M298,640.5h2M303.5,641v1M304,642.5h2M309,642.5h3M315,641.5h2M317.5,640v1M321,640.5h3M327,639.5h2M329.5,638v1M333.5,638v1M334,637.5h2M339.5,637v1M340,638.5h2M345,638.5h3M351,640.5h2M353.5,641v1M357.5,643v1M358,644.5h2M363,646.5h3M369,646.5h3M375,644.5h2M377.5,643v1M381,641.5h2M383.5,640v1M387.5,637v1M388,636.5h2M393.5,633v1M394.5,632v1M395.5,631v1M399.5,628v1M400,627.5h2M405,625.5h3M411,624.5h3M417,624.5h3M423.5,625v1M424,626.5h2M429,627.5h3M435,628.5h3M441,629.5h3M447,628.5h3M453.5,626v1M454,625.5h2M459.5,622v1M460.5,621v1M461.5,620v1M465.5,617v1M466.5,616v1M467.5,615v1M470.5,611v1M471.5,610v1M472.5,609v1M476.5,605v1M477.5,604v1M478.5,603v1M482.5,601v1M483,600.5h2M488,598.5h3M494,597.5h3M500,599.5h3M506,600.5h3M512.5,602v1M513,603.5h2M518,604.5h3M524,604.5h3M530,604.5h3M536,604.5h3M542,603.5h3M548,604.5h3M554,605.5h3M560,607.5h3M566,608.5h3M572.5,610v1M573,611.5h2M578,612.5h3M584,614.5h2M586.5,615v1M590,615.5h3M596,616.5h3M602,616.5h3M608,616.5h3M614,616.5h3M620,615.5h3M626.5,614v1M627,613.5h2M632,611.5h3M638.5,609v1M639,608.5h2M644,607.5h3M650,605.5h3M656,604.5h3M662,604.5h3M668,604.5h3M674,604.5h3M680,605.5h3M686,605.5h3M692.5,605v1M693,606.5h2M698,606.5h3M704,608.5h3M710,609.5h3M716.5,609v1M717,610.5h2M722,611.5h3M728,612.5h3M734,613.5h3M740,613.5h3M746,612.5h3M752,611.5h3M758,611.5h3M764,611.5h3M770,611.5h2M772.5,612v1M776.5,614v1M777.5,615v1M778.5,616v1M782.5,618v1M783.5,619v1M784.5,620v1M788.5,623v1M789.5,624v1M790.5,625v1M794.5,628v1M795,629.5h2M800.5,631v1M801,632.5h2M806,633.5h3M812,633.5h3M818.5,633v1M819,634.5h2M824,634.5h3M830.5,634v1M831,635.5h2M836.5,638v1M837,639.5h2M842.5,642v1M843.5,643v1M844.5,644v1M848,647.5h2M850.5,648v1M854.5,651v1M855,652.5h2M860.5,654v1M861,655.5h2M866.5,656v1M867,657.5h2M872,659.5h3M878,659.5h2M880.5,658v1M884,657.5h3M890,657.5h3M896,655.5h2M898.5,654v1M902,653.5h3M908.5,652v1M909,651.5h2M914,650.5h3M920,648.5h3M926.5,647v1M927,646.5h2M932.5,644v1M933.5,643v1M934.5,642v1M938,640.5h2M940.5,639v1M944.5,636v1M945.5,635v1M946.5,634v1M950.5,631v1M951.5,630v1M952.5,629v1M956.5,626v1M957,625.5h2M962.5,622v1M963,621.5h2M968.5,619v1M969.5,618v1M970.5,617v1M974.5,615v1M975,614.5h2M980.5,612v1M981,611.5h2M986.5,609v1M987,608.5h2M992,606.5h3M998,605.5h3M1004,603.5h3M1010,602.5h3M1016,602.5h3M1022,601.5h3M1028,600.5h3M1034,600.5h3M1040,599.5h3M1046,599.5h3M1052,600.5h3M1058,601.5h3M1064,602.5h3M1070,603.5h3M1076,604.5h3M1082,605.5h3M1088,607.5h2M1090.5,608v1M1094.5,610v1M1095.5,611v1M1096.5,612v1M1100.5,614v1M1101.5,615v1M1102.5,616v1M1106.5,618v1M1107,619.5h2M1112,621.5h3M1118,623.5h3M1124,624.5h3" fill="none" stroke="#ff0000" stroke-width="1"/>
</g>
<g clip-path="url(#c3)">
<line x1="7" y1="708.5" x2="1421" y2="708.5" stroke="#c0c0c0" stroke-width="1" stroke-dasharray="3 3" stroke-dashoffset="0"/>
<line x1="7" y1="759.5" x2="1421" y2="759.5" stroke="#c0c0c0" stroke-width="1" stroke-dasharray="3 3" stroke-dashoffset="0"/>
<path d="M6,726.5h2M8,725.5h2M10,724.5h3M13,723.5h2M15.5,722v1M16.5,721v1M17.5,720v1M18.5,719v1M19,720.5h2M21.5,721v1M22.5,722v1M23.5,721v1M24.5,719v2M25,718.5h2M26.5,717v1M27.5,719v3M28.5,722v2M29.5,724v3M30,727.5h3M30.5,728v1M33.5,726v1M34,725.5h2M36,726.5h2M38,727.5h3M41,726.5h4M45,725.5h6M51.5,724v1M52.5,723v1M53.5,722v1M54.5,720v2M55.5,718v2M56.5,716v2M57.5,714v2M58.5,713v1M59,714.5h2M61.5,715v1M62.5,716v1M63.5,715v1M64.5,713v2M65.5,712v1M66.5,711v1M67.5,712v1M68.5,713v1M69.5,714v1M70.5,715v1M71,714.5h2M73,713.5h2M74.5,712v1M75.5,714v4M76.5,718v3M77.5,721v4M78.5,725v2M79.5,726v1M80,727.5h2M82.5,728v1M83,729.5h2M85.5,730v1M86.5,731v1M87.5,730v1M88.5,728v2M89.5,727v1M90.5,725v2M91.5,721v4M92.5,718v3M93.5,714v4M94.5,712v2M95.5,714v3M96.5,717v3M97.5,720v3M98.5,723v2M99.5,725v1M100.5,726v2M101.5,728v1M102.5,729v1M103.5,728v1M104.5,727v1M105.5,726v1M106,725.5h5M111,724.5h2M113.5,723v1M114.5,722v1M115.5,721v1M116.5,720v1M117.5,719v1M118.5,718v1M119,719.5h2M121.5,720v1M122,721.5h7M129,720.5h2M131.5,721v2M132.5,723v1M133.5,724v2M134.5,726v2M135.5,728v2M136.5,730v2M137.5,732v2M138.5,733v2M139.5,731v2M140.5,729v2M141.5,727v2M142.5,725v2M143.5,723v2M144.5,720v3M145.5,718v2M146.5,716v2M147.5,716v1M148,715.5h3M150.5,714v1M151.5,716v4M152.5,720v3M153.5,723v4M154.5,727v2M155.5,727v1M156.5,726v1M157.5,725v1M158.5,724v1M159.5,722v2M160.5,721v1M161.5,719v2M162.5,718v1M163,719.5h2M165.5,720v1M166.5,721v1M167,722.5h2M169.5,723v1M170,724.5h6M176,723.5h2M178,722.5h3M181,721.5h2M183,720.5h2M185.5,719v1M186.5,718v1M187.5,717v1M188.5,716v1M189.5,715v1M190.5,714v1M191,713.5h2M193.5,712v1M194,711.5h3M197,710.5h2M199.5,708v2M200.5,706v2M201.5,704v2M202,703.5h6M208,704.5h2M210,705.5h5M215,706.5h2M217.5,707v1M218.5,708v1M219.5,707v1M220.5,706v1M221.5,705v1M222,704.5h2M224,703.5h2M226.5,702v1M227,703.5h2M229.5,704v1M230,705.5h3M233,706.5h4M237,705.5h6M242.5,706v3M243.5,709v8M244.5,717v8M245.5,725v8M246.5,733v5M247.5,738v2M248.5,740v2M249.5,742v2M250.5,744v2M251,746.5h2M253.5,747v1M254.5,748v1M255.5,749v2M256.5,751v1M257.5,752v2M258.5,754v1M259.5,755v1M260.5,756v1M261.5,757v1M262.5,758v1M263,759.5h2M265.5,760v1M266.5,761v1M267.5,760v1M268.5,758v2M269.5,757v1M270.5,756v1M271.5,755v1M272.5,753v2M273.5,752v1M274,751.5h7M281,750.5h4M285,751.5h4M289,752.5h2M291.5,751v1M292.5,749v2M293.5,748v1M294,747.5h2M296,748.5h2M298,749.5h2M300,748.5h2M302.5,747v1M303.5,746v1M304.5,745v1M305.5,744v1M306.5,742v2M307.5,739v3M308.5,737v2M309.5,734v3M310.5,732v2M311,733.5h2M313.5,734v1M314,735.5h2M316,734.5h3M318.5,733v1M318.5,735v1M319.5,736v4M320.5,740v4M321.5,744v4M322.5,748v3M323,750.5h2M325,751.5h2M326.5,750v1M327.5,748v2M328.5,746v2M329.5,744v2M330,743.5h3M333,742.5h2M334.5,743v1M335.5,744v3M336.5,747v3M337.5,750v3M338.5,753v2M339,755.5h2M341.5,756v1M342.5,757v1M343,758.5h2M345.5,759v1M346,760.5h2M348,759.5h2M350.5,758v1M351,757.5h2M353.5,756v1M354.5,755v1M355,754.5h2M357.5,753v1M358.5,751v2M359.5,747v4M360.5,743v4M361.5,739v4M362.5,736v3M363.5,733v3M364.5,731v2M365.5,728v3M366.5,726v2M367.5,727v1M368.5,728v2M369.5,730v1M370,731.5h3M373,730.5h2M375,729.5h2M377,728.5h2M378.5,727v1M379.5,729v2M380.5,731v3M381.5,734v2M382.5,736v2M383.5,736v1M384.5,735v1M385.5,734v1M386.5,733v1M387.5,732v1M388.5,731v1M389.5,730v1M390.5,729v1M391.5,730v1M392.5,731v2M393.5,733v1M394,734.5h2M396,735.5h2M398,736.5h5M403,737.5h2M405.5,738v1M406.5,739v1M407.5,740v1M408.5,741v2M409,743.5h2M410.5,744v1M411.5,741v2M412.5,739v2M413.5,737v2M414.5,736v2M415.5,738v2M416.5,740v3M417.5,743v2M418.5,745v2M419,746.5h4M423.5,744v2M424.5,742v2M425.5,740v2M426,739.5h2M428,740.5h2M430,741.5h2M432,742.5h2M434.5,743v1M435,742.5h2M437.5,741v1M438.5,738v3M439.5,734v4M440.5,730v4M441.5,726v4M442.5,724v2M443.5,724v1M444,725.5h2M446.5,726v1M447,725.5h2M449.5,724v1M450.5,723v1M451.5,722v1M452.5,721v1M453.5,720v1M454.5,719v1M455.5,717v2M456.5,715v2M457.5,713v2M458,712.5h5M463.5,713v1M464.5,714v2M465.5,716v1M466,717.5h3M469,716.5h2M471.5,717v1M472.5,718v1M473.5,719v1M474.5,720v1M475.5,721v2M476.5,723v1M477.5,724v2M478.5,726v1M479.5,727v2M480.5,729v2M481.5,731v2M482.5,733v1M483,732.5h2M485.5,731v1M486,730.5h2M488,729.5h2M490,728.5h7M497,729.5h3M500,730.5h2M502.5,731v1M503.5,732v2M504.5,734v1M505.5,735v2M506.5,736v2M507.5,733v3M508.5,730v3M509.5,727v3M510.5,725v2M511.5,724v1M512.5,722v2M513.5,721v1M514,720.5h3M517,719.5h2M519.5,720v1M520.5,721v2M521.5,723v1M522.5,724v1M523,725.5h2M525.5,726v1M526.5,727v1M527.5,726v1M528.5,724v2M529.5,723v1M530,722.5h2M532,721.5h3M534.5,720v1M535.5,722v3M536.5,725v4M537.5,729v3M538.5,732v2M539,733.5h4M543.5,734v1M544.5,735v2M545.5,737v1M546.5,738v1M547.5,737v1M548.5,736v1M549.5,735v1M550,734.5h5M555,733.5h2M557.5,732v1M558.5,731v1M559.5,730v1M560.5,729v1M561.5,728v1M562.5,727v1M563,728.5h2M565.5,729v1M566.5,730v2M567.5,732v2M568.5,734v2M569.5,736v2M570.5,738v2M571.5,739v1M572,738.5h2M574,737.5h3M577,738.5h2M578.5,737v1M579.5,735v2M580.5,733v2M581.5,731v2M582.5,729v2M583.5,730v2M584.5,732v2M585.5,734v2M586,736.5h5M591.5,734v2M592.5,733v1M593.5,731v2M594,730.5h2M596,731.5h2M598,732.5h3M601,733.5h2M603,732.5h2M605.5,731v1M606,730.5h2M608,729.5h2M610.5,728v1M611.5,729v2M612.5,731v2M613.5,733v2M614.5,734v2M615.5,730v4M616.5,727v3M617.5,723v4M618.5,721v2M619.5,719v2M620.5,717v2M621.5,715v2M622.5,714v1M623,715.5h2M625.5,716v1M626.5,717v1M627.5,718v1M628.5,719v1M629.5,720v1M630,721.5h3M633,720.5h3M636,721.5h2M638.5,722v2M639.5,724v3M640.5,727v3M641.5,730v3M642.5,733v2M643.5,732v2M644.5,730v2M645.5,728v2M646.5,727v1M647.5,726v1M648.5,724v2M649,723.5h2M650.5,722v1M651.5,724v2M652.5,726v2M653.5,728v2M654.5,730v1M655.5,728v2M656.5,727v1M657.5,725v2M658.5,724v1M659.5,725v1M660.5,726v1M661.5,727v1M662,728.5h2M664,727.5h2M666,726.5h2M668,725.5h2M670,724.5h2M672,725.5h2M674.5,726v2M675.5,728v2M676.5,730v2M677.5,732v2M678.5,734v1M679.5,733v1M680.5,732v1M681.5,731v1M682.5,730v1M683.5,729v1M684.5,727v2M685.5,726v1M686.5,725v1M687,726.5h2M689.5,727v1M690.5,728v1M691,729.5h2M693.5,730v1M694.5,731v1M695,730.5h2M697.5,729v1M698.5,728v1M699.5,729v1M700.5,730v1M701.5,731v1M702,732.5h3M705,731.5h2M707.5,732v1M708.5,733v1M709.5,734v1M710.5,735v1M711.5,736v1M712.5,737v1M713.5,738v1M714.5,739v1M715.5,737v2M716.5,735v2M717.5,733v2M718.5,732v1M719.5,730v2M720.5,729v1M721.5,727v2M722.5,726v1M723.5,727v2M724.5,729v2M725.5,731v2M726,733.5h9M734.5,732v1M735.5,730v2M736.5,728v2M737.5,726v2M738.5,724v2M739.5,723v1M740.5,722v1M741.5,721v1M742.5,720v1M743,719.5h2M745.5,718v1M746.5,717v1M747,718.5h2M749.5,719v1M750,720.5h5M754.5,721v2M755.5,723v4M756.5,727v5M757.5,732v4M758.5,736v3M759.5,739v2M760.5,741v2M761.5,743v2M762.5,745v1M763.5,743v2M764.5,742v1M765.5,740v2M766.5,739v2M767.5,741v2M768.5,743v2M769.5,745v2M770.5,747v3M771.5,750v2M772.5,752v2M773.5,754v2M774.5,756v2M775,757.5h8M783,756.5h2M785.5,755v1M786.5,753v2M787.5,750v3M788.5,748v2M789.5,745v3M790,743.5h3M790.5,744v1M793,744.5h2M794.5,743v1M795.5,739v4M796.5,736v3M797.5,732v4M798,730.5h3M798.5,731v1M801,731.5h6M807.5,732v2M808.5,734v2M809.5,736v2M810.5,738v2M811.5,740v3M812.5,743v3M813.5,746v3M814.5,749v2M815.5,751v2M816.5,753v2M817.5,755v2M818.5,757v1M819.5,756v1M820.5,755v1M821.5,754v1M822,753.5h3M825,754.5h4M829,755.5h4M833,756.5h2M835.5,757v1M836.5,758v2M837.5,760v1M838,761.5h2M840,762.5h2M842,763.5h3M845,764.5h2M847,763.5h2M849.5,762v1M850.5,760v2M851.5,758v2M852.5,756v2M853.5,754v2M854.5,753v1M855,754.5h2M857.5,755v1M858.5,756v1M859.5,757v1M860.5,758v1M861.5,759v1M862,760.5h3M865,761.5h2M866.5,760v1M867.5,758v2M868.5,756v2M869.5,754v2M870,753.5h3M873,754.5h2M875.5,753v1M876.5,751v2M877.5,750v1M878.5,749v1M879.5,748v1M880.5,746v2M881.5,745v1M882.5,744v1M883.5,745v2M884.5,747v2M885.5,749v2M886,751.5h5M891.5,752v1M892.5,753v2M893.5,755v1M894,756.5h3M897,755.5h2M899,754.5h2M901.5,753v1M902.5,751v2M903.5,749v2M904.5,747v2M905.5,745v2M906.5,744v1M907.5,745v1M908.5,746v1M909.5,747v1M910.5,748v1M911,749.5h2M913.5,750v1M914.5,751v1M915.5,749v2M916.5,748v1M917.5,746v2M918,745.5h3M921,746.5h2M922.5,745v1M923.5,741v4M924.5,737v4M925.5,733v4M926,731.5h3M926.5,732v1M929,730.5h6M935,729.5h2M937.5,728v1M938,727.5h2M940,726.5h2M942,725.5h7M949,726.5h2M951.5,727v1M952.5,728v1M953,729.5h2M954.5,730v1M955.5,727v2M956.5,725v2M957.5,723v2M958.5,721v2M959.5,721v1M960,720.5h2M962,719.5h6M968,720.5h2M970,721.5h2M972,720.5h2M974.5,718v2M975.5,716v2M976.5,713v3M977.5,711v2M978.5,709v2M979.5,708v1M980.5,707v1M981,706.5h2M982.5,705v1M982.5,707v1M983.5,708v5M984.5,713v5M985.5,718v5M986.5,723v3M987.5,726v1M988.5,727v1M989.5,728v1M990,729.5h2M992,728.5h2M994.5,727v1M995,726.5h2M997.5,725v1M998.5,724v1M999.5,725v1M1000.5,726v2M1001,728.5h2M1002.5,729v1M1003.5,725v3M1004.5,721v4M1005.5,718v3M1006,716.5h3M1006.5,717v1M1009,715.5h2M1010.5,716v1M1011.5,717v2M1012.5,719v2M1013.5,721v2M1014.5,723v2M1015,724.5h2M1017,725.5h2M1018.5,724v1M1019.5,722v2M1020.5,720v2M1021.5,718v2M1022,717.5h2M1024,718.5h2M1026.5,719v1M1027.5,720v2M1028.5,722v1M1029.5,723v2M1030,725.5h2M1032,724.5h2M1034,723.5h3M1037,724.5h2M1039,723.5h2M1041,722.5h2M1042.5,721v1M1043.5,723v3M1044.5,726v3M1045.5,729v3M1046.5,732v2M1047.5,732v1M1048.5,730v2M1049.5,729v1M1050.5,728v1M1051.5,727v1M1052.5,726v1M1053.5,725v1M1054.5,724v1M1055.5,725v1M1056.5,726v2M1057.5,728v1M1058.5,729v1M1059.5,727v2M1060.5,726v1M1061.5,724v2M1062,723.5h3M1065,724.5h2M1067,723.5h2M1069.5,722v1M1070,721.5h5M1074.5,722v2M1075.5,724v5M1076.5,729v5M1077.5,734v5M1078.5,739v3M1079,741.5h2M1081,740.5h2M1083.5,741v2M1084.5,743v2M1085.5,745v2M1086,747.5h3M1089,748.5h6M1095,749.5h2M1097,750.5h2M1098.5,751v1M1099.5,748v2M1100.5,746v2M1101.5,744v2M1102.5,743v1M1103.5,742v1M1104.5,740v2M1105.5,739v1M1106.5,737v2M1107.5,734v3M1108.5,732v2M1109.5,729v3M1110.5,727v2M1111.5,729v2M1112.5,731v3M1113.5,734v2M1114.5,736v2M1115.5,736v1M1116.5,735v1M1117.5,734v1M1118,733.5h5M1122.5,732v1M1123.5,730v2M1124.5,728v2M1125.5,726v2M1126,725.5h3M1129,724.5h2" fill="none" stroke="#1e90ff" stroke-width="1"/>
</g>
<rect x="5" y="22" width="1" height="540" fill="#000"/>
<rect x="1421" y="22" width="1" height="540" fill="#000"/>
<rect x="5" y="22" width="1417" height="1" fill="#000"/>
<rect x="5" y="561" width="1417" height="1" fill="#000"/>
<rect x="5" y="563" width="1" height="104" fill="#000"/>
<rect x="1421" y="563" width="1" height="104" fill="#000"/>
<rect x="5" y="563" width="1417" height="1" fill="#000"/>
<rect x="5" y="666" width="1417" height="1" fill="#000"/>
<rect x="5" y="668" width="1" height="131" fill="#000"/>
<rect x="1421" y="668" width="1" height="131" fill="#000"/>
<rect x="5" y="668" width="1417" height="1" fill="#000"/>
<rect x="5" y="798" width="1417" height="1" fill="#000"/>
<rect x="5" y="45" width="7" height="7" fill="#ff0000"/>
<rect x="8" y="48" width="1" height="1" fill="#fff"/>
<rect x="1415" y="45" width="7" height="7" fill="#ff0000"/>
<rect x="1418" y="48" width="1" height="1" fill="#fff"/>
<rect x="5" y="154" width="7" height="7" fill="#ff0000"/>
<rect x="8" y="157" width="1" height="1" fill="#fff"/>
<rect x="1415" y="154" width="7" height="7" fill="#ff0000"/>
<rect x="1418" y="157" width="1" height="1" fill="#fff"/>
<rect x="5" y="292" width="7" height="7" fill="#00ff00"/>
<rect x="8" y="295" width="1" height="1" fill="#fff"/>
<rect x="1415" y="292" width="7" height="7" fill="#00ff00"/>
<rect x="1418" y="295" width="1" height="1" fill="#fff"/>
<rect x="5" y="417" width="7" height="7" fill="#0000ff"/>
<rect x="8" y="420" width="1" height="1" fill="#fff"/>
<rect x="1415" y="417" width="7" height="7" fill="#0000ff"/>
<rect x="1418" y="420" width="1" height="1" fill="#fff"/>
<rect x="1421" y="324" width="2" height="1" fill="#c0c0c0"/>
<rect x="12" y="29" width="1" height="1" fill="#000"/>
<rect x="11" y="30" width="3" height="1" fill="#000"/>
<rect x="10" y="31" width="5" height="1" fill="#000"/>
<rect x="9" y="32" width="7" height="1" fill="#000"/>
<text x="21" y="34" font-size="10" fill="#000" textLength="68.5" lengthAdjust="spacingAndGlyphs" stroke="#000" stroke-width="0.3">USDCAD-,Daily</text>
<text x="96" y="34" font-size="10" fill="#000" textLength="141" lengthAdjust="spacingAndGlyphs" stroke="#000" stroke-width="0.3">1.32983 1.33054 1.32978 1.33052</text>
<text x="10" y="576" font-size="10" fill="#000" textLength="151.5" lengthAdjust="spacingAndGlyphs" stroke="#000" stroke-width="0.3">MACD(12,26,9) 0.000356 -0.001034</text>
<text x="10" y="681" font-size="10" fill="#000" textLength="68.5" lengthAdjust="spacingAndGlyphs" stroke="#000" stroke-width="0.3">RSI(14) 57.4083</text>
<rect x="1422" y="30" width="2" height="1" fill="#000"/>
<text x="1427.5" y="34" font-size="10" fill="#000" textLength="32.5" lengthAdjust="spacingAndGlyphs" stroke="#000" stroke-width="0.3">1.36880</text>
<rect x="1422" y="63" width="2" height="1" fill="#000"/>
<text x="1427.5" y="67" font-size="10" fill="#000" textLength="32.5" lengthAdjust="spacingAndGlyphs" stroke="#000" stroke-width="0.3">1.36450</text>
<rect x="1422" y="96" width="2" height="1" fill="#000"/>
<text x="1427.5" y="100" font-size="10" fill="#000" textLength="32.5" lengthAdjust="spacingAndGlyphs" stroke="#000" stroke-width="0.3">1.36020</text>
<rect x="1422" y="129" width="2" height="1" fill="#000"/>
<text x="1427.5" y="133" font-size="10" fill="#000" textLength="32.5" lengthAdjust="spacingAndGlyphs" stroke="#000" stroke-width="0.3">1.35600</text>
<rect x="1422" y="162" width="2" height="1" fill="#000"/>
<text x="1427.5" y="166" font-size="10" fill="#000" textLength="32.5" lengthAdjust="spacingAndGlyphs" stroke="#000" stroke-width="0.3">1.35170</text>
<rect x="1422" y="195" width="2" height="1" fill="#000"/>
<text x="1427.5" y="199" font-size="10" fill="#000" textLength="32.5" lengthAdjust="spacingAndGlyphs" stroke="#000" stroke-width="0.3">1.34740</text>
<rect x="1422" y="228" width="2" height="1" fill="#000"/>
<text x="1427.5" y="232" font-size="10" fill="#000" textLength="32.5" lengthAdjust="spacingAndGlyphs" stroke="#000" stroke-width="0.3">1.34310</text>
<rect x="1422" y="261" width="2" height="1" fill="#000"/>
<text x="1427.5" y="265" font-size="10" fill="#000" textLength="32.5" lengthAdjust="spacingAndGlyphs" stroke="#000" stroke-width="0.3">1.33880</text>
<rect x="1422" y="294" width="2" height="1" fill="#000"/>
<rect x="1422" y="327" width="2" height="1" fill="#000"/>
<text x="1427.5" y="331" font-size="10" fill="#000" textLength="32.5" lengthAdjust="spacingAndGlyphs" stroke="#000" stroke-width="0.3">1.33020</text>
<rect x="1422" y="360" width="2" height="1" fill="#000"/>
<text x="1427.5" y="364" font-size="10" fill="#000" textLength="32.5" lengthAdjust="spacingAndGlyphs" stroke="#000" stroke-width="0.3">1.32590</text>
<rect x="1422" y="393" width="2" height="1" fill="#000"/>
<text x="1427.5" y="397" font-size="10" fill="#000" textLength="32.5" lengthAdjust="spacingAndGlyphs" stroke="#000" stroke-width="0.3">1.32160</text>
<rect x="1422" y="426" width="2" height="1" fill="#000"/>
<text x="1427.5" y="430" font-size="10" fill="#000" textLength="32.5" lengthAdjust="spacingAndGlyphs" stroke="#000" stroke-width="0.3">1.31730</text>
<rect x="1422" y="459" width="2" height="1" fill="#000"/>
<text x="1427.5" y="463" font-size="10" fill="#000" textLength="32.5" lengthAdjust="spacingAndGlyphs" stroke="#000" stroke-width="0.3">1.31300</text>
<rect x="1422" y="492" width="2" height="1" fill="#000"/>
<text x="1427.5" y="496" font-size="10" fill="#000" textLength="32.5" lengthAdjust="spacingAndGlyphs" stroke="#000" stroke-width="0.3">1.30870</text>
<rect x="1422" y="525" width="2" height="1" fill="#000"/>
<text x="1427.5" y="529" font-size="10" fill="#000" textLength="32.5" lengthAdjust="spacingAndGlyphs" stroke="#000" stroke-width="0.3">1.30440</text>
<rect x="1422" y="558" width="1" height="2" fill="#000"/>
<rect x="1423" y="42" width="41" height="11" fill="#ff0000"/>
<text x="1427.5" y="51" font-size="10" fill="#fff" textLength="32.5" lengthAdjust="spacingAndGlyphs" stroke="#fff" stroke-width="0.3">1.36645</text>
<rect x="1423" y="151" width="41" height="11" fill="#ff0000"/>
<text x="1427.5" y="160" font-size="10" fill="#fff" textLength="32.5" lengthAdjust="spacingAndGlyphs" stroke="#fff" stroke-width="0.3">1.35237</text>
<rect x="1423" y="289" width="41" height="11" fill="#00ff00"/>
<text x="1427.5" y="298" font-size="10" fill="#fff" textLength="32.5" lengthAdjust="spacingAndGlyphs" stroke="#fff" stroke-width="0.3">1.33439</text>
<rect x="1423" y="319" width="41" height="11" fill="#000000"/>
<text x="1427.5" y="328" font-size="10" fill="#fff" textLength="32.5" lengthAdjust="spacingAndGlyphs" stroke="#fff" stroke-width="0.3">1.33052</text>
<rect x="1423" y="415" width="41" height="11" fill="#0000ff"/>
<text x="1427.5" y="424" font-size="10" fill="#fff" textLength="32.5" lengthAdjust="spacingAndGlyphs" stroke="#fff" stroke-width="0.3">1.31806</text>
<rect x="1423" y="553" width="41" height="11" fill="#0000ff"/>
<text x="1427.5" y="562" font-size="10" fill="#fff" textLength="32.5" lengthAdjust="spacingAndGlyphs" stroke="#fff" stroke-width="0.3">1.30004</text>
<text x="1425" y="574" font-size="10" fill="#000" textLength="37.5" lengthAdjust="spacingAndGlyphs" stroke="#000" stroke-width="0.3">0.010311</text>
<rect x="1422" y="618" width="1" height="1" fill="#000"/>
<text x="1425" y="622" font-size="10" fill="#000" textLength="18" lengthAdjust="spacingAndGlyphs" stroke="#000" stroke-width="0.3">0.00</text>
<text x="1424.7" y="663" font-size="10" fill="#000" textLength="41.5" lengthAdjust="spacingAndGlyphs" stroke="#000" stroke-width="0.3">-0.009203</text>
<text x="1425.3" y="679" font-size="10" fill="#000" textLength="14.5" lengthAdjust="spacingAndGlyphs" stroke="#000" stroke-width="0.3">100</text>
<text x="1424.3" y="712" font-size="10" fill="#000" textLength="9.8" lengthAdjust="spacingAndGlyphs" stroke="#000" stroke-width="0.3">70</text>
<text x="1424.3" y="763" font-size="10" fill="#000" textLength="9.8" lengthAdjust="spacingAndGlyphs" stroke="#000" stroke-width="0.3">30</text>
<text x="1425" y="795" font-size="10" fill="#000" textLength="4.8" lengthAdjust="spacingAndGlyphs" stroke="#000" stroke-width="0.3">0</text>
<rect x="1422" y="565" width="1" height="1" fill="#000"/>
<rect x="1422" y="665" width="1" height="1" fill="#000"/>
<rect x="1422" y="670" width="1" height="1" fill="#000"/>
<rect x="1422" y="797" width="1" height="1" fill="#000"/>
<rect x="6" y="799" width="1" height="3" fill="#000"/>
<text x="5.3" y="811" font-size="10" fill="#000" textLength="50.4" lengthAdjust="spacingAndGlyphs" stroke="#000" stroke-width="0.3">25 Oct 2018</text>
<rect x="70" y="799" width="1" height="3" fill="#000"/>
<text x="69.3" y="811" font-size="10" fill="#000" textLength="52.5" lengthAdjust="spacingAndGlyphs" stroke="#000" stroke-width="0.3">13 Nov 2018</text>
<rect x="134" y="799" width="1" height="3" fill="#000"/>
<text x="133.3" y="811" font-size="10" fill="#000" textLength="47.3" lengthAdjust="spacingAndGlyphs" stroke="#000" stroke-width="0.3">2 Dec 2018</text>
<rect x="198" y="799" width="1" height="3" fill="#000"/>
<text x="197.3" y="811" font-size="10" fill="#000" textLength="52.5" lengthAdjust="spacingAndGlyphs" stroke="#000" stroke-width="0.3">20 Dec 2018</text>
<rect x="262" y="799" width="1" height="3" fill="#000"/>
<text x="261.3" y="811" font-size="10" fill="#000" textLength="45.8" lengthAdjust="spacingAndGlyphs" stroke="#000" stroke-width="0.3">8 Jan 2019</text>
<rect x="326" y="799" width="1" height="3" fill="#000"/>
<text x="325.3" y="811" font-size="10" fill="#000" textLength="50.9" lengthAdjust="spacingAndGlyphs" stroke="#000" stroke-width="0.3">27 Jan 2019</text>
<rect x="390" y="799" width="1" height="3" fill="#000"/>
<text x="389.3" y="811" font-size="10" fill="#000" textLength="52.0" lengthAdjust="spacingAndGlyphs" stroke="#000" stroke-width="0.3">14 Feb 2019</text>
<rect x="454" y="799" width="1" height="3" fill="#000"/>
<text x="453.3" y="811" font-size="10" fill="#000" textLength="46.8" lengthAdjust="spacingAndGlyphs" stroke="#000" stroke-width="0.3">5 Mar 2019</text>
<rect x="518" y="799" width="1" height="3" fill="#000"/>
<text x="517.3" y="811" font-size="10" fill="#000" textLength="51.9" lengthAdjust="spacingAndGlyphs" stroke="#000" stroke-width="0.3">24 Mar 2019</text>
<rect x="582" y="799" width="1" height="3" fill="#000"/>
<text x="581.3" y="811" font-size="10" fill="#000" textLength="49.2" lengthAdjust="spacingAndGlyphs" stroke="#000" stroke-width="0.3">11 Apr 2019</text>
<rect x="646" y="799" width="1" height="3" fill="#000"/>
<text x="645.3" y="811" font-size="10" fill="#000" textLength="48.3" lengthAdjust="spacingAndGlyphs" stroke="#000" stroke-width="0.3">1 May 2019</text>
<rect x="710" y="799" width="1" height="3" fill="#000"/>
<text x="709.3" y="811" font-size="10" fill="#000" textLength="53.5" lengthAdjust="spacingAndGlyphs" stroke="#000" stroke-width="0.3">20 May 2019</text>
<rect x="774" y="799" width="1" height="3" fill="#000"/>
<text x="773.3" y="811" font-size="10" fill="#000" textLength="45.8" lengthAdjust="spacingAndGlyphs" stroke="#000" stroke-width="0.3">7 Jun 2019</text>
<rect x="838" y="799" width="1" height="3" fill="#000"/>
<text x="837.3" y="811" font-size="10" fill="#000" textLength="50.9" lengthAdjust="spacingAndGlyphs" stroke="#000" stroke-width="0.3">26 Jun 2019</text>
<rect x="902" y="799" width="1" height="3" fill="#000"/>
<text x="901.3" y="811" font-size="10" fill="#000" textLength="47.8" lengthAdjust="spacingAndGlyphs" stroke="#000" stroke-width="0.3">15 Jul 2019</text>
<rect x="966" y="799" width="1" height="3" fill="#000"/>
<text x="965.3" y="811" font-size="10" fill="#000" textLength="46.8" lengthAdjust="spacingAndGlyphs" stroke="#000" stroke-width="0.3">2 Aug 2019</text>
<rect x="1030" y="799" width="1" height="3" fill="#000"/>
<text x="1029.3" y="811" font-size="10" fill="#000" textLength="52.0" lengthAdjust="spacingAndGlyphs" stroke="#000" stroke-width="0.3">21 Aug 2019</text>
<rect x="1094" y="799" width="1" height="3" fill="#000"/>
<text x="1093.3" y="811" font-size="10" fill="#000" textLength="47.3" lengthAdjust="spacingAndGlyphs" stroke="#000" stroke-width="0.3">9 Sep 2019</text>
<rect x="0" y="819" width="1464" height="1" fill="#e3e3e3"/>
<rect x="0" y="820" width="1464" height="1" fill="#fff"/>
<rect x="0" y="821" width="1464" height="1" fill="#000"/>
<rect x="0" y="822" width="1464" height="1" fill="#fcfcfc"/>
<rect x="0" y="823" width="1464" height="17" fill="#f0f0f0"/>
<rect x="0" y="840" width="1464" height="2" fill="#f8f8f8"/>
<rect x="1" y="822" width="1" height="18" fill="#b4b4b4"/>
<rect x="2" y="822" width="1" height="18" fill="#707070"/>
<rect x="3" y="822" width="1" height="18" fill="#fcfcfc"/>
<rect x="330" y="822" width="1" height="18" fill="#fcfcfc"/>
<rect x="439" y="822" width="1" height="18" fill="#fcfcfc"/>
<rect x="331" y="821" width="108" height="19" fill="#000"/>
<rect x="332" y="820" width="106" height="19" fill="#fff"/>
<rect x="331" y="840" width="108" height="1" fill="#c8c8c8"/>
<text x="18" y="836" font-size="12" fill="#707070" textLength="85" lengthAdjust="spacingAndGlyphs">EURUSD-,Daily</text>
<text x="125" y="836" font-size="12" fill="#707070" textLength="86" lengthAdjust="spacingAndGlyphs">AUDUSD-,Daily</text>
<text x="235" y="836" font-size="12" fill="#707070" textLength="84" lengthAdjust="spacingAndGlyphs">USDCHF-,Daily</text>
<text x="342.5" y="836" font-size="12" fill="#000" textLength="85.5" lengthAdjust="spacingAndGlyphs">USDCAD-,Daily</text>
<text x="451" y="836" font-size="12" fill="#707070" textLength="88" lengthAdjust="spacingAndGlyphs">USDCNH-,Daily</text>
<text x="562" y="836" font-size="12" fill="#707070" textLength="96" lengthAdjust="spacingAndGlyphs">EURCHF-,Weekly</text>
<text x="681" y="836" font-size="12" fill="#707070" textLength="86" lengthAdjust="spacingAndGlyphs">XAUUSD-,Daily</text>
<text x="790" y="836" font-size="12" fill="#707070" textLength="72" lengthAdjust="spacingAndGlyphs">GBPUSD-,H1</text>
<text x="886" y="836" font-size="12" fill="#707070" textLength="56" lengthAdjust="spacingAndGlyphs">UKOil-,H1</text>
<text x="966" y="836" font-size="12" fill="#707070" textLength="82" lengthAdjust="spacingAndGlyphs">USDX-,Weekly</text>
<text x="1070" y="836" font-size="12" fill="#707070" textLength="96" lengthAdjust="spacingAndGlyphs">EURCHF-,Weekly</text>
<rect x="115" y="824" width="1" height="14" fill="#707070"/>
<rect x="224" y="824" width="1" height="14" fill="#707070"/>
<rect x="550" y="824" width="1" height="14" fill="#707070"/>
<rect x="670" y="824" width="1" height="14" fill="#707070"/>
<rect x="778" y="824" width="1" height="14" fill="#707070"/>
<rect x="875" y="824" width="1" height="14" fill="#707070"/>
<rect x="955" y="824" width="1" height="14" fill="#707070"/>
<rect x="1059" y="824" width="1" height="14" fill="#707070"/>
<rect x="1179" y="824" width="1" height="14" fill="#707070"/>
<polygon points="1436.5,830 1440.8,826.6 1440.8,833.4" fill="#a0a0a0" shape-rendering="geometricPrecision"/>
<polygon points="1460,830 1455.7,826.6 1455.7,833.4" fill="#a0a0a0" shape-rendering="geometricPrecision"/>
<rect x="7" y="40" width="223" height="68" fill="#fff"/>
<rect x="9" y="42" width="52" height="25" fill="url(#gb)"/>
<rect x="176" y="42" width="52" height="25" fill="url(#gb)"/>
<rect x="9" y="66" width="109" height="40" fill="url(#gp)"/>
<rect x="120" y="66" width="108" height="40" fill="url(#gp)"/>
<rect x="13" y="65" width="44" height="1" fill="#1a1ab0"/>
<rect x="13" y="66" width="44" height="1" fill="#8c8cf8"/>
<rect x="180" y="65" width="44" height="1" fill="#1a1ab0"/>
<rect x="180" y="66" width="44" height="1" fill="#8c8cf8"/>
<rect x="61" y="42" width="115" height="24" fill="#fff"/>
<rect x="63.5" y="42.5" width="110" height="21" fill="#fff" stroke="#b4b4b4" stroke-width="1"/>
<rect x="65" y="44" width="18" height="18" fill="url(#gg)"/>
<rect x="154" y="44" width="18" height="18" fill="url(#gg)"/>
<rect x="84" y="43" width="1" height="20" fill="#c4c4c4"/>
<rect x="152" y="43" width="1" height="20" fill="#c4c4c4"/>
<polygon points="70.8,51.2 76,51.2 73.4,54.4" fill="#5068c0" shape-rendering="geometricPrecision"/>
<polygon points="159.8,54.4 165,54.4 162.4,51.2" fill="#5068c0" shape-rendering="geometricPrecision"/>
<text x="149" y="57" font-size="12" fill="#000" textLength="24" lengthAdjust="spacingAndGlyphs" text-anchor="end">1.00</text>
<text x="21.5" y="57.9" font-size="12" fill="#fff" textLength="26" lengthAdjust="spacingAndGlyphs">SELL</text>
<text x="189.5" y="57.9" font-size="12" fill="#fff" textLength="24" lengthAdjust="spacingAndGlyphs">BUY</text>
<text x="29.5" y="96.8" font-size="13" fill="#fff" textLength="23.5" lengthAdjust="spacingAndGlyphs" font-weight="bold">1.33</text>
<text x="56.3" y="97" font-size="35.5" fill="#fff" textLength="36.5" lengthAdjust="spacingAndGlyphs" stroke="url(#gs)" stroke-width="0.7">05</text>
<text x="96.5" y="81" font-size="12" fill="#fff" textLength="7" lengthAdjust="spacingAndGlyphs" font-weight="bold">2</text>
<text x="139.5" y="96.8" font-size="13" fill="#fff" textLength="23.5" lengthAdjust="spacingAndGlyphs" font-weight="bold">1.33</text>
<text x="166.3" y="97" font-size="35.5" fill="#fff" textLength="36.5" lengthAdjust="spacingAndGlyphs" stroke="url(#gs)" stroke-width="0.7">07</text>
<text x="207.5" y="81" font-size="12" fill="#fff" textLength="7" lengthAdjust="spacingAndGlyphs" font-weight="bold">2</text></svg>
</body></html>
